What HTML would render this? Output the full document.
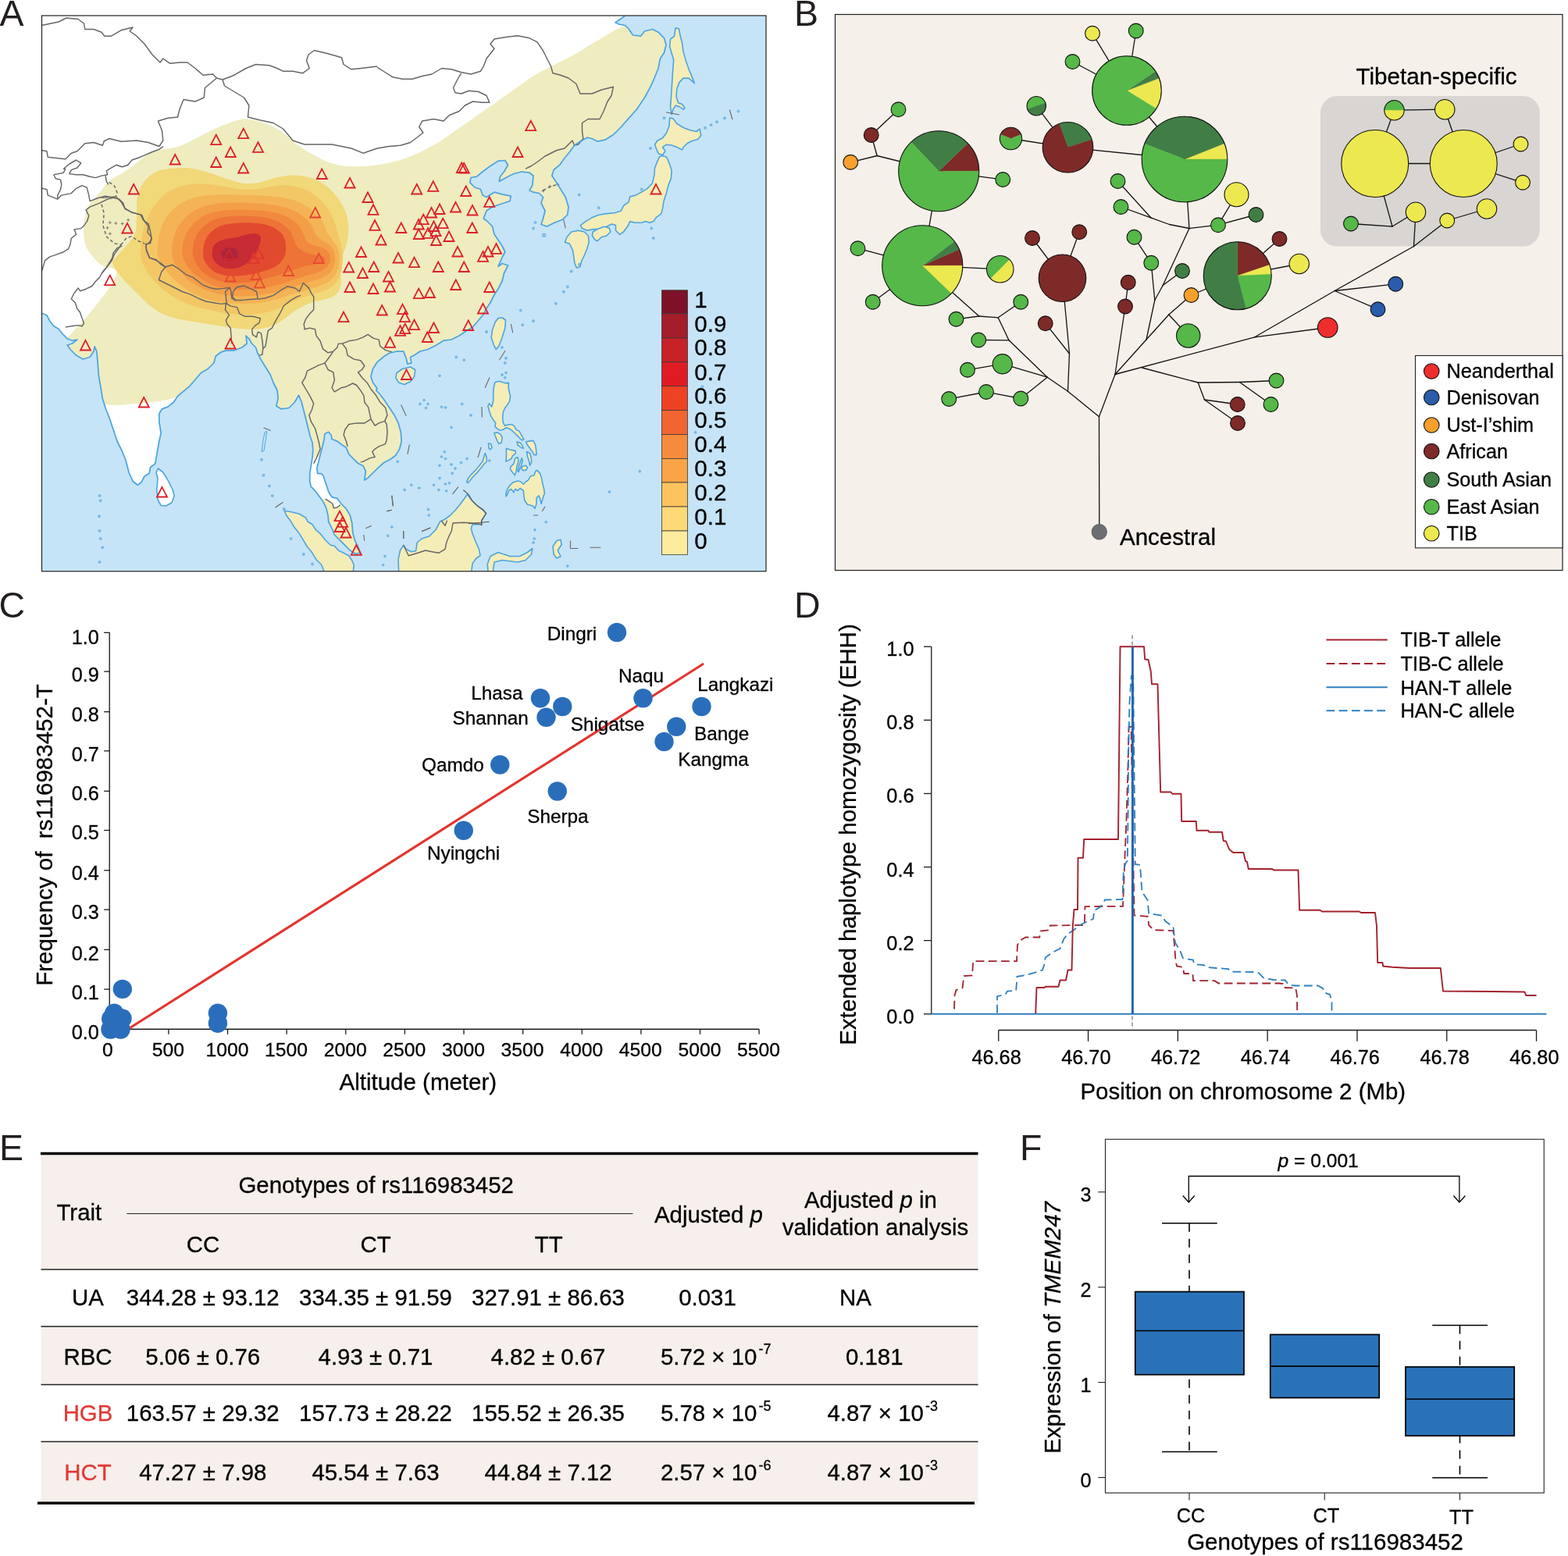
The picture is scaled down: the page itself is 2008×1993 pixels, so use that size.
<!DOCTYPE html>
<html lang="en"><head><meta charset="utf-8"><title>Figure</title>
<style>html,body{margin:0;padding:0;background:#fff}body{width:2008px;height:1993px;overflow:hidden}svg{display:block}text{font-family:"Liberation Sans",sans-serif;stroke:#000;stroke-width:.3px}</style></head><body>
<svg width="2008" height="1993" viewBox="0 0 2008 1993">
<rect width="2008" height="1993" fill="#fff"/>
<g id="panelA">
<defs><clipPath id="mapclip"><rect x="53.5" y="20.0" width="927.5" height="711.75"/></clipPath>
<clipPath id="landclip"><path d="M53.5,401.2 L60.0,403.8 L63.8,411.2 L68.8,417.5 L75.0,421.2 L80.0,427.5 L86.2,433.8 L92.5,436.2 L98.8,435.0 L92.5,440.0 L86.2,442.0 L90.0,447.5 L97.5,455.0 L106.2,460.0 L115.0,457.5 L120.0,450.0 L121.2,443.8 L123.8,450.0 L125.0,462.5 L126.2,480.0 L128.8,495.0 L131.2,510.0 L135.0,522.5 L140.0,535.0 L145.0,550.0 L150.0,565.0 L156.2,577.5 L161.2,590.0 L165.0,605.0 L170.0,616.2 L176.2,621.2 L181.2,617.5 L185.0,610.0 L191.2,606.2 L192.5,598.8 L198.8,593.8 L201.2,580.0 L203.8,565.0 L206.2,555.0 L203.8,540.0 L203.8,530.0 L207.5,523.8 L215.0,521.2 L222.5,515.0 L227.5,507.5 L235.0,501.2 L242.5,495.0 L250.0,486.2 L257.5,477.5 L266.2,472.5 L273.8,465.0 L276.2,456.2 L282.5,451.2 L290.0,448.8 L300.0,448.8 L310.0,445.0 L316.2,440.0 L315.0,430.0 L318.8,433.8 L322.5,440.0 L327.5,445.0 L330.0,452.5 L333.8,460.0 L340.0,470.0 L346.2,480.0 L350.0,490.0 L355.0,500.0 L356.2,510.0 L353.8,520.0 L360.0,523.8 L370.0,522.5 L377.5,515.0 L382.5,506.2 L386.2,515.0 L390.0,530.0 L393.8,545.0 L397.5,560.0 L400.0,566.7 L400.8,576.7 L400.0,586.7 L398.3,596.7 L396.7,606.7 L396.7,616.7 L398.3,623.3 L403.3,628.3 L408.3,635.0 L413.3,641.7 L417.5,650.0 L420.0,660.0 L420.8,668.3 L425.0,676.7 L428.3,685.0 L435.0,691.7 L441.7,698.3 L448.3,705.0 L455.0,709.2 L461.7,708.3 L458.3,700.0 L454.2,691.7 L451.7,681.7 L450.8,670.0 L448.3,660.0 L443.3,651.7 L436.7,645.0 L431.7,638.3 L425.0,636.7 L420.8,630.0 L417.5,620.0 L414.2,610.0 L411.7,606.7 L406.7,606.7 L405.8,600.0 L407.5,593.3 L410.0,583.3 L412.5,573.3 L415.0,563.3 L415.8,555.8 L420.8,553.3 L424.2,557.5 L425.0,562.5 L431.7,565.0 L438.3,570.0 L443.3,573.3 L446.7,581.7 L453.3,588.3 L458.3,593.3 L465.0,596.7 L468.3,603.3 L466.7,615.0 L471.7,611.7 L478.3,605.0 L485.0,598.3 L491.7,592.5 L500.0,588.3 L506.7,583.3 L511.7,575.0 L514.2,565.0 L513.3,553.3 L510.0,541.7 L505.0,531.7 L498.3,521.7 L491.7,511.7 L485.0,503.3 L481.7,500.0 L483.0,497.5 L477.5,490.0 L475.0,482.5 L477.5,472.5 L483.0,463.8 L490.5,457.5 L498.0,452.5 L508.0,450.0 L516.8,450.0 L520.5,460.0 L521.8,466.2 L526.8,465.0 L525.5,457.5 L530.5,455.0 L538.0,450.0 L548.0,447.5 L558.0,442.5 L568.0,436.2 L578.0,435.0 L588.0,430.0 L595.5,425.0 L605.5,418.8 L613.0,410.0 L619.2,402.5 L623.0,395.0 L628.0,387.5 L633.0,377.5 L638.0,370.0 L643.0,360.0 L645.5,350.0 L650.5,340.0 L643.0,337.5 L638.0,341.2 L643.0,330.0 L646.8,322.5 L643.0,315.0 L638.0,307.5 L633.0,300.0 L630.5,290.0 L623.0,282.5 L619.2,280.0 L623.0,270.0 L630.5,265.0 L638.0,262.5 L653.0,257.5 L654.2,251.2 L643.0,248.8 L633.0,246.2 L623.0,252.5 L618.0,250.0 L615.5,242.5 L608.0,240.0 L601.8,233.8 L603.0,227.5 L610.5,226.2 L618.0,220.0 L628.0,212.5 L638.0,206.2 L646.8,205.5 L650.5,211.2 L645.5,220.0 L640.5,226.2 L639.2,232.5 L648.0,227.5 L658.0,222.5 L668.0,220.0 L678.0,221.2 L683.0,225.0 L681.8,237.5 L678.0,243.8 L683.0,246.2 L690.5,247.5 L695.5,252.5 L693.0,260.0 L698.0,270.0 L695.5,280.0 L693.0,287.5 L700.5,290.0 L710.5,285.0 L720.5,281.2 L726.8,275.0 L728.0,265.0 L724.2,252.5 L718.0,242.5 L711.8,232.5 L706.8,225.0 L709.2,217.5 L716.8,211.2 L723.0,202.5 L729.2,195.0 L735.5,186.2 L743.0,181.2 L751.8,176.2 L758.0,177.5 L765.5,181.2 L775.5,178.8 L785.5,172.5 L795.5,162.5 L805.5,151.2 L815.5,140.0 L825.5,125.0 L833.0,111.2 L838.0,100.0 L843.0,87.5 L845.5,75.0 L850.5,67.5 L853.0,57.5 L850.5,48.8 L843.0,41.2 L835.5,37.5 L825.5,40.0 L820.5,46.2 L810.5,45.0 L805.5,37.5 L800.5,32.5 L793.0,31.2 L788.0,28.8 L795.5,23.8 L800.5,20.0 L800.5,15.0 L48.5,15.0 L48.5,401.2Z"/></clipPath></defs>
<g clip-path="url(#mapclip)">
<rect x="53.5" y="20.0" width="927.5" height="711.75" fill="#c6e4f7"/>
<path d="M53.5,401.2 L60.0,403.8 L63.8,411.2 L68.8,417.5 L75.0,421.2 L80.0,427.5 L86.2,433.8 L92.5,436.2 L98.8,435.0 L92.5,440.0 L86.2,442.0 L90.0,447.5 L97.5,455.0 L106.2,460.0 L115.0,457.5 L120.0,450.0 L121.2,443.8 L123.8,450.0 L125.0,462.5 L126.2,480.0 L128.8,495.0 L131.2,510.0 L135.0,522.5 L140.0,535.0 L145.0,550.0 L150.0,565.0 L156.2,577.5 L161.2,590.0 L165.0,605.0 L170.0,616.2 L176.2,621.2 L181.2,617.5 L185.0,610.0 L191.2,606.2 L192.5,598.8 L198.8,593.8 L201.2,580.0 L203.8,565.0 L206.2,555.0 L203.8,540.0 L203.8,530.0 L207.5,523.8 L215.0,521.2 L222.5,515.0 L227.5,507.5 L235.0,501.2 L242.5,495.0 L250.0,486.2 L257.5,477.5 L266.2,472.5 L273.8,465.0 L276.2,456.2 L282.5,451.2 L290.0,448.8 L300.0,448.8 L310.0,445.0 L316.2,440.0 L315.0,430.0 L318.8,433.8 L322.5,440.0 L327.5,445.0 L330.0,452.5 L333.8,460.0 L340.0,470.0 L346.2,480.0 L350.0,490.0 L355.0,500.0 L356.2,510.0 L353.8,520.0 L360.0,523.8 L370.0,522.5 L377.5,515.0 L382.5,506.2 L386.2,515.0 L390.0,530.0 L393.8,545.0 L397.5,560.0 L400.0,566.7 L400.8,576.7 L400.0,586.7 L398.3,596.7 L396.7,606.7 L396.7,616.7 L398.3,623.3 L403.3,628.3 L408.3,635.0 L413.3,641.7 L417.5,650.0 L420.0,660.0 L420.8,668.3 L425.0,676.7 L428.3,685.0 L435.0,691.7 L441.7,698.3 L448.3,705.0 L455.0,709.2 L461.7,708.3 L458.3,700.0 L454.2,691.7 L451.7,681.7 L450.8,670.0 L448.3,660.0 L443.3,651.7 L436.7,645.0 L431.7,638.3 L425.0,636.7 L420.8,630.0 L417.5,620.0 L414.2,610.0 L411.7,606.7 L406.7,606.7 L405.8,600.0 L407.5,593.3 L410.0,583.3 L412.5,573.3 L415.0,563.3 L415.8,555.8 L420.8,553.3 L424.2,557.5 L425.0,562.5 L431.7,565.0 L438.3,570.0 L443.3,573.3 L446.7,581.7 L453.3,588.3 L458.3,593.3 L465.0,596.7 L468.3,603.3 L466.7,615.0 L471.7,611.7 L478.3,605.0 L485.0,598.3 L491.7,592.5 L500.0,588.3 L506.7,583.3 L511.7,575.0 L514.2,565.0 L513.3,553.3 L510.0,541.7 L505.0,531.7 L498.3,521.7 L491.7,511.7 L485.0,503.3 L481.7,500.0 L483.0,497.5 L477.5,490.0 L475.0,482.5 L477.5,472.5 L483.0,463.8 L490.5,457.5 L498.0,452.5 L508.0,450.0 L516.8,450.0 L520.5,460.0 L521.8,466.2 L526.8,465.0 L525.5,457.5 L530.5,455.0 L538.0,450.0 L548.0,447.5 L558.0,442.5 L568.0,436.2 L578.0,435.0 L588.0,430.0 L595.5,425.0 L605.5,418.8 L613.0,410.0 L619.2,402.5 L623.0,395.0 L628.0,387.5 L633.0,377.5 L638.0,370.0 L643.0,360.0 L645.5,350.0 L650.5,340.0 L643.0,337.5 L638.0,341.2 L643.0,330.0 L646.8,322.5 L643.0,315.0 L638.0,307.5 L633.0,300.0 L630.5,290.0 L623.0,282.5 L619.2,280.0 L623.0,270.0 L630.5,265.0 L638.0,262.5 L653.0,257.5 L654.2,251.2 L643.0,248.8 L633.0,246.2 L623.0,252.5 L618.0,250.0 L615.5,242.5 L608.0,240.0 L601.8,233.8 L603.0,227.5 L610.5,226.2 L618.0,220.0 L628.0,212.5 L638.0,206.2 L646.8,205.5 L650.5,211.2 L645.5,220.0 L640.5,226.2 L639.2,232.5 L648.0,227.5 L658.0,222.5 L668.0,220.0 L678.0,221.2 L683.0,225.0 L681.8,237.5 L678.0,243.8 L683.0,246.2 L690.5,247.5 L695.5,252.5 L693.0,260.0 L698.0,270.0 L695.5,280.0 L693.0,287.5 L700.5,290.0 L710.5,285.0 L720.5,281.2 L726.8,275.0 L728.0,265.0 L724.2,252.5 L718.0,242.5 L711.8,232.5 L706.8,225.0 L709.2,217.5 L716.8,211.2 L723.0,202.5 L729.2,195.0 L735.5,186.2 L743.0,181.2 L751.8,176.2 L758.0,177.5 L765.5,181.2 L775.5,178.8 L785.5,172.5 L795.5,162.5 L805.5,151.2 L815.5,140.0 L825.5,125.0 L833.0,111.2 L838.0,100.0 L843.0,87.5 L845.5,75.0 L850.5,67.5 L853.0,57.5 L850.5,48.8 L843.0,41.2 L835.5,37.5 L825.5,40.0 L820.5,46.2 L810.5,45.0 L805.5,37.5 L800.5,32.5 L793.0,31.2 L788.0,28.8 L795.5,23.8 L800.5,20.0 L800.5,15.0 L48.5,15.0 L48.5,401.2Z" fill="#fff"/>
<g clip-path="url(#landclip)">
<path d="M798.0,33.8 C795.5,35.0 789.7,37.5 783.0,41.2 C776.3,45.0 766.3,51.2 758.0,56.2 C749.7,61.2 741.3,66.7 733.0,71.2 C724.7,75.8 716.3,79.4 708.0,83.8 C699.7,88.1 691.3,92.3 683.0,97.5 C674.7,102.7 666.3,109.2 658.0,115.0 C649.7,120.8 641.3,126.7 633.0,132.5 C624.7,138.3 616.3,144.2 608.0,150.0 C599.7,155.8 590.5,162.3 583.0,167.5 C575.5,172.7 569.7,177.1 563.0,181.2 C556.3,185.4 549.7,189.2 543.0,192.5 C536.3,195.8 529.7,198.8 523.0,201.2 C516.3,203.8 509.7,205.8 503.0,207.5 C496.3,209.2 489.8,210.3 483.0,211.2 C476.2,212.2 469.7,212.8 462.5,213.0 C455.3,213.2 447.1,213.4 440.0,212.5 C432.9,211.6 426.7,210.0 420.0,207.5 C413.3,205.0 406.7,201.2 400.0,197.5 C393.3,193.8 386.2,189.6 380.0,185.0 C373.8,180.4 368.3,174.2 362.5,170.0 C356.7,165.8 351.2,162.7 345.0,160.0 C338.8,157.3 330.8,155.0 325.0,153.8 C319.2,152.5 315.8,151.7 310.0,152.5 C304.2,153.3 296.7,156.2 290.0,158.8 C283.3,161.2 276.7,164.4 270.0,167.5 C263.3,170.6 256.2,174.4 250.0,177.5 C243.8,180.6 237.9,184.2 232.5,186.2 C227.1,188.3 223.3,188.7 217.5,190.0 C211.7,191.3 203.5,191.7 197.7,193.8 C191.9,195.9 187.3,199.4 182.7,202.5 C178.1,205.7 174.3,209.4 170.2,212.5 C166.0,215.7 161.8,218.7 157.6,221.3 C153.5,223.9 148.7,225.9 145.1,228.2 C141.6,230.5 138.9,232.5 136.4,235.1 C133.9,237.7 132.8,240.5 130.1,243.8 C127.4,247.2 123.0,251.5 120.1,255.1 C117.2,258.6 114.5,261.4 112.6,265.1 C110.7,268.9 109.8,273.0 108.8,277.6 C107.9,282.2 107.2,288.0 107.0,292.6 C106.7,297.2 107.0,301.4 107.6,305.2 C108.1,308.9 108.8,312.0 110.1,315.2 C111.3,318.3 113.2,321.2 115.1,323.9 C117.0,326.6 119.3,329.1 121.3,331.4 C123.4,333.7 125.3,335.9 127.6,337.7 C129.9,339.5 132.6,341.1 135.1,342.1 C137.6,343.0 140.3,342.5 142.6,343.3 C144.9,344.2 148.2,344.7 148.9,347.1 C149.5,349.5 147.6,354.5 146.4,357.7 C145.1,361.0 143.2,363.6 141.4,366.5 C139.5,369.4 137.4,372.1 135.1,375.2 C132.8,378.4 130.3,381.7 127.6,385.3 C124.9,388.8 121.8,393.0 118.8,396.5 C115.9,400.1 112.8,403.4 110.1,406.5 C107.4,409.7 104.7,413.0 102.6,415.3 C100.5,417.5 98.4,419.3 97.6,420.1 L80.0,440.0 L100.0,480.0 L115.0,505.0 L122.0,519.0 L135.0,518.0 L150.0,519.0 L175.0,517.0 L195.0,515.0 L212.5,512.5 L226.2,508.8 L240.0,508.0 L300.0,520.0 L380.0,570.0 L395.0,588.0 L412.0,583.0 L420.0,590.0 L440.0,610.0 L480.0,680.0 L500.0,740.0 L990.0,740.0 L990.0,10.0 L805.0,10.0Z" fill="#efecc0"/>
<path d="M416.7,639.2 L420.8,641.7 L425.8,645.0 L427.5,650.8 L431.7,650.0 L435.8,646.7 L446.7,646.7 L471.7,716.7 L396.7,716.7 L405.0,638.3Z" fill="#f5edb7"/>
<path d="M213.4,216.4 C218.4,215.5 224.5,215.1 230.1,215.0 C235.7,215.0 241.2,215.0 246.8,215.9 C252.3,216.7 257.9,218.5 263.5,220.0 C269.0,221.6 274.6,223.6 280.1,225.4 C285.7,227.2 291.3,229.3 296.8,230.9 C302.4,232.5 308.0,234.5 313.5,235.1 C319.1,235.6 324.6,235.2 330.2,234.2 C335.8,233.2 341.3,230.7 346.9,229.2 C352.4,227.7 358.0,226.1 363.6,225.4 C369.1,224.6 374.7,224.3 380.2,224.7 C385.8,225.1 391.4,225.8 396.9,227.6 C402.5,229.3 408.6,231.9 413.6,235.1 C418.6,238.3 423.1,242.6 427.0,246.7 C430.9,250.9 434.2,255.4 437.0,260.1 C439.8,264.8 442.1,270.1 443.6,275.1 C445.2,280.1 445.9,285.1 446.1,290.1 C446.4,295.1 446.0,300.4 445.3,305.1 C444.6,309.9 443.2,314.3 442.0,318.5 C440.7,322.6 438.9,326.0 437.8,330.1 C436.7,334.3 435.4,339.1 435.3,343.5 C435.2,347.9 436.8,352.9 437.0,356.8 C437.1,360.7 437.0,363.8 436.1,366.9 C435.3,369.9 434.1,372.8 432.0,375.2 C429.9,377.6 426.7,379.6 423.6,381.0 C420.6,382.5 417.0,383.0 413.6,383.9 C410.3,384.7 407.5,384.8 403.6,386.0 C399.7,387.2 394.7,389.0 390.3,391.0 C385.8,393.1 381.4,395.6 376.9,398.6 C372.5,401.5 367.5,405.8 363.6,408.6 C359.7,411.3 356.9,413.5 353.6,415.2 C350.2,417.0 347.4,417.9 343.6,418.9 C339.7,419.9 335.2,421.0 330.2,421.4 C325.2,421.8 319.1,421.7 313.5,421.4 C308.0,421.1 302.4,420.4 296.8,419.7 C291.3,419.0 285.7,418.1 280.1,417.2 C274.6,416.4 269.0,415.3 263.5,414.4 C257.9,413.5 252.3,412.8 246.8,411.9 C241.2,411.0 235.1,410.0 230.1,408.9 C225.1,407.8 221.2,406.8 216.8,405.2 C212.3,403.6 207.6,401.8 203.4,399.4 C199.2,397.0 195.6,394.2 191.7,391.0 C187.8,387.8 183.7,383.7 180.1,380.2 C176.4,376.7 173.4,373.5 170.0,370.2 C166.7,366.9 163.1,363.5 160.0,360.2 C157.0,356.8 154.1,353.2 151.7,350.2 C149.3,347.1 147.1,344.2 145.8,341.8 C144.6,339.5 143.8,337.9 144.2,336.0 C144.6,334.0 146.0,333.1 148.3,330.1 C150.7,327.2 155.0,322.4 158.4,318.5 C161.7,314.6 165.8,310.4 168.4,306.8 C170.9,303.2 172.7,300.7 173.7,296.8 C174.8,292.9 174.5,288.4 174.7,283.4 C174.9,278.4 174.9,271.8 175.1,266.8 C175.2,261.7 175.0,257.9 175.9,253.4 C176.7,249.0 178.0,244.2 180.1,240.1 C182.1,235.9 185.1,231.7 188.4,228.4 C191.7,225.0 195.9,222.0 200.1,220.0 C204.2,218.0 208.4,217.2 213.4,216.4Z" fill="#f1d878"/>
<path d="M180.1,326.8 C179.5,320.4 180.3,311.2 181.7,303.5 C183.1,295.7 185.3,287.3 188.4,280.1 C191.4,272.9 195.3,265.9 200.1,260.1 C204.8,254.2 210.1,249.0 216.8,245.1 C223.4,241.2 231.8,238.2 240.1,236.7 C248.5,235.2 258.5,235.5 266.8,235.9 C275.1,236.3 282.9,238.1 290.2,239.2 C297.4,240.3 303.5,242.1 310.2,242.6 C316.9,243.0 323.5,242.8 330.2,242.1 C336.9,241.4 343.5,239.1 350.2,238.4 C356.9,237.6 363.6,236.9 370.2,237.6 C376.9,238.3 384.1,239.9 390.3,242.6 C396.4,245.2 401.9,249.1 406.9,253.4 C411.9,257.7 416.7,263.1 420.3,268.4 C423.9,273.7 426.5,279.8 428.6,285.1 C430.7,290.4 431.5,295.7 432.8,300.1 C434.1,304.6 435.2,307.9 436.1,311.8 C437.1,315.7 438.2,319.3 438.6,323.5 C439.1,327.7 439.1,332.4 438.6,336.8 C438.2,341.3 437.5,346.0 436.1,350.2 C434.8,354.3 432.9,358.5 430.3,361.9 C427.7,365.2 424.2,368.0 420.3,370.2 C416.4,372.4 411.9,373.5 406.9,375.2 C401.9,376.9 395.8,378.3 390.3,380.2 C384.7,382.1 379.1,384.4 373.6,386.9 C368.0,389.4 362.5,393.0 356.9,395.2 C351.3,397.4 346.0,399.0 340.2,400.2 C334.4,401.5 328.0,402.4 321.9,402.7 C315.7,403.1 309.9,402.8 303.5,402.4 C297.1,402.0 290.2,401.3 283.5,400.2 C276.8,399.2 270.1,397.7 263.5,396.1 C256.8,394.4 249.8,392.6 243.4,390.2 C237.1,387.8 230.9,385.2 225.1,381.9 C219.3,378.5 213.4,374.4 208.4,370.2 C203.4,366.0 199.0,361.6 195.1,356.8 C191.2,352.1 187.6,346.8 185.1,341.8 C182.6,336.8 180.6,333.2 180.1,326.8Z" fill="#f3c765"/>
<path d="M201.7,323.5 C201.6,318.5 202.0,310.1 203.4,303.5 C204.8,296.8 206.7,289.6 210.1,283.4 C213.4,277.3 217.9,271.5 223.4,266.8 C229.0,262.0 236.2,257.9 243.4,255.1 C250.7,252.3 258.7,251.0 266.8,250.1 C274.9,249.1 283.5,249.2 291.8,249.2 C300.2,249.2 308.5,249.8 316.9,250.1 C325.2,250.3 334.1,250.3 341.9,250.9 C349.7,251.5 356.6,252.0 363.6,253.4 C370.5,254.8 377.5,256.6 383.6,259.2 C389.7,261.9 395.5,265.5 400.3,269.3 C405.0,273.0 408.9,277.2 411.9,281.8 C415.0,286.4 416.4,292.6 418.6,296.8 C420.8,300.9 423.1,303.5 425.3,306.8 C427.5,310.1 430.4,313.2 432.0,316.8 C433.5,320.4 434.2,324.6 434.5,328.5 C434.7,332.4 434.5,336.3 433.6,340.2 C432.8,344.1 431.7,348.4 429.5,351.8 C427.2,355.3 424.0,358.5 420.3,361.0 C416.5,363.5 411.9,365.0 406.9,366.9 C401.9,368.7 396.1,370.1 390.3,371.9 C384.4,373.7 378.0,375.8 371.9,377.7 C365.8,379.6 360.0,381.9 353.6,383.5 C347.2,385.2 340.2,386.8 333.5,387.7 C326.9,388.6 320.2,388.8 313.5,388.9 C306.8,389.0 300.2,388.8 293.5,388.2 C286.8,387.6 279.9,386.7 273.5,385.2 C267.1,383.7 261.0,381.9 255.1,379.4 C249.3,376.9 243.7,373.7 238.4,370.2 C233.2,366.7 227.9,362.7 223.4,358.5 C219.0,354.3 214.9,349.3 211.8,345.2 C208.6,341.0 205.9,337.1 204.2,333.5 C202.6,329.9 201.9,328.5 201.7,323.5Z" fill="#f4b354"/>
<path d="M220.1,323.5 C219.8,318.5 220.4,312.4 221.8,306.8 C223.1,301.2 225.4,295.3 228.4,290.1 C231.5,285.0 235.4,280.0 240.1,275.9 C244.8,271.9 250.7,268.4 256.8,265.9 C262.9,263.4 269.9,261.9 276.8,260.9 C283.8,259.9 291.3,259.9 298.5,259.8 C305.7,259.6 313.0,259.8 320.2,260.1 C327.4,260.4 334.9,260.6 341.9,261.4 C348.8,262.2 355.8,263.2 361.9,264.8 C368.0,266.3 373.6,268.4 378.6,270.9 C383.6,273.5 388.3,276.8 391.9,280.1 C395.5,283.4 398.0,287.3 400.3,290.9 C402.5,294.6 403.1,298.9 405.3,301.8 C407.5,304.7 410.6,306.2 413.6,308.5 C416.7,310.7 421.1,312.4 423.6,315.1 C426.1,317.9 427.8,321.5 428.6,325.1 C429.5,328.8 429.3,333.2 428.6,336.8 C427.9,340.4 426.7,343.9 424.5,346.8 C422.2,349.8 419.0,352.3 415.3,354.3 C411.5,356.4 406.9,357.7 401.9,359.4 C396.9,361.0 391.1,362.5 385.3,364.4 C379.4,366.2 373.0,368.4 366.9,370.2 C360.8,372.0 354.7,373.9 348.6,375.2 C342.4,376.5 336.3,377.5 330.2,378.2 C324.1,378.9 318.0,379.3 311.9,379.4 C305.7,379.4 299.6,379.2 293.5,378.5 C287.4,377.8 281.0,376.7 275.1,375.2 C269.3,373.7 263.7,371.9 258.5,369.4 C253.2,366.9 247.9,363.7 243.4,360.2 C239.0,356.7 235.1,352.4 231.8,348.5 C228.4,344.6 225.4,341.0 223.4,336.8 C221.5,332.6 220.4,328.5 220.1,323.5Z" fill="#f39f48"/>
<path d="M233.4,323.5 C233.3,319.3 233.7,313.4 235.1,308.5 C236.5,303.5 238.7,298.3 241.8,293.8 C244.8,289.2 249.0,284.7 253.5,281.3 C257.9,277.8 263.2,275.0 268.5,273.1 C273.8,271.2 279.0,270.5 285.2,269.8 C291.3,269.0 298.5,268.8 305.2,268.8 C311.9,268.7 318.5,268.9 325.2,269.3 C331.9,269.6 338.8,270.0 345.2,271.1 C351.6,272.2 358.3,273.7 363.6,275.8 C368.9,277.8 373.3,280.6 376.9,283.4 C380.5,286.2 383.2,289.6 385.3,292.6 C387.3,295.7 388.0,298.9 389.4,301.8 C390.8,304.7 391.2,307.9 393.6,310.1 C396.0,312.4 400.0,313.8 403.6,315.1 C407.2,316.5 412.2,316.8 415.3,318.5 C418.3,320.1 420.7,322.6 422.0,325.1 C423.2,327.7 423.3,330.7 422.8,333.5 C422.2,336.3 420.7,339.5 418.6,341.8 C416.5,344.2 413.9,346.0 410.3,347.7 C406.7,349.3 401.9,350.3 396.9,351.8 C391.9,353.4 385.8,355.0 380.2,356.8 C374.7,358.6 369.1,361.0 363.6,362.7 C358.0,364.3 352.4,365.7 346.9,366.9 C341.3,368.0 335.8,369.2 330.2,369.9 C324.6,370.6 319.1,370.9 313.5,371.0 C308.0,371.1 302.4,371.1 296.8,370.5 C291.3,370.0 285.4,369.1 280.1,367.7 C274.9,366.2 269.9,364.2 265.1,361.9 C260.4,359.5 255.7,356.6 251.8,353.5 C247.9,350.5 244.4,346.8 241.8,343.5 C239.1,340.2 237.3,336.8 235.9,333.5 C234.6,330.2 233.6,327.7 233.4,323.5Z" fill="#f18a3e"/>
<path d="M246.8,323.5 C246.5,319.2 247.1,313.9 248.4,309.3 C249.8,304.7 252.1,299.9 255.1,295.9 C258.2,292.0 262.6,288.2 266.8,285.4 C271.0,282.7 275.1,280.8 280.1,279.4 C285.2,278.0 291.3,277.5 296.8,277.1 C302.4,276.7 308.0,276.7 313.5,276.8 C319.1,276.8 324.6,277.0 330.2,277.6 C335.8,278.2 341.9,279.0 346.9,280.4 C351.9,281.8 356.3,283.6 360.2,285.9 C364.1,288.2 367.7,291.4 370.2,294.3 C372.7,297.2 373.9,300.4 375.2,303.5 C376.6,306.5 376.9,309.9 378.6,312.6 C380.2,315.4 382.5,318.1 385.3,320.1 C388.0,322.2 391.9,323.7 395.3,324.8 C398.6,325.9 402.2,326.2 405.3,326.8 C408.3,327.4 411.7,327.6 413.6,328.5 C415.6,329.3 416.9,330.6 416.9,331.8 C416.9,333.1 415.8,334.9 413.6,336.0 C411.4,337.1 407.5,337.7 403.6,338.5 C399.7,339.3 394.7,339.9 390.3,341.0 C385.8,342.1 381.4,343.6 376.9,345.2 C372.5,346.7 368.6,348.5 363.6,350.2 C358.6,351.8 352.4,353.6 346.9,355.2 C341.3,356.7 335.8,358.2 330.2,359.4 C324.6,360.5 319.1,361.4 313.5,361.9 C308.0,362.3 302.4,362.6 296.8,362.2 C291.3,361.8 285.2,360.8 280.1,359.4 C275.1,357.9 270.7,355.9 266.8,353.5 C262.9,351.1 259.6,348.2 256.8,345.2 C254.0,342.1 251.8,338.8 250.1,335.2 C248.5,331.5 247.1,327.8 246.8,323.5Z" fill="#ee7337"/>
<path d="M260.1,323.5 C260.3,320.0 260.4,315.1 261.8,311.0 C263.2,306.8 265.4,302.2 268.5,298.8 C271.5,295.4 276.0,292.4 280.1,290.4 C284.3,288.4 289.1,287.6 293.5,286.8 C297.9,285.9 302.1,285.7 306.8,285.4 C311.6,285.2 316.9,285.2 321.9,285.4 C326.9,285.7 332.1,286.1 336.9,287.1 C341.6,288.1 346.3,289.5 350.2,291.4 C354.1,293.4 357.7,296.0 360.2,298.8 C362.7,301.6 364.3,304.9 365.2,308.5 C366.2,312.0 366.3,316.5 366.1,320.1 C365.8,323.8 365.1,327.1 363.6,330.1 C362.0,333.2 359.7,336.1 356.9,338.5 C354.1,340.9 350.8,342.7 346.9,344.3 C343.0,346.0 338.3,347.2 333.5,348.5 C328.8,349.8 323.5,351.0 318.5,351.8 C313.5,352.7 308.5,353.4 303.5,353.5 C298.5,353.6 293.2,353.5 288.5,352.7 C283.8,351.8 278.9,350.6 275.1,348.5 C271.4,346.4 268.3,342.9 266.0,340.2 C263.6,337.4 261.9,334.6 261.0,331.8 C260.0,329.0 260.0,327.0 260.1,323.5Z" fill="#e24a30"/>
<path d="M271.8,323.5 C272.1,321.3 272.1,317.5 273.5,315.1 C274.9,312.8 277.4,310.8 280.1,309.3 C282.9,307.8 286.5,306.8 290.2,306.0 C293.8,305.1 297.9,305.1 301.8,304.3 C305.7,303.5 309.6,301.8 313.5,300.9 C317.4,300.1 322.0,299.2 325.2,299.3 C328.4,299.4 331.3,300.3 332.7,301.8 C334.1,303.3 334.0,305.7 333.5,308.5 C333.1,311.2 331.6,315.1 330.2,318.5 C328.8,321.8 327.4,325.4 325.2,328.5 C323.0,331.5 320.2,334.5 316.9,336.8 C313.5,339.2 309.1,341.4 305.2,342.7 C301.3,343.9 297.1,344.5 293.5,344.3 C289.9,344.2 286.5,343.4 283.5,341.8 C280.4,340.3 277.1,337.4 275.1,335.2 C273.2,332.9 272.4,330.4 271.8,328.5 C271.3,326.5 271.5,325.7 271.8,323.5Z" fill="#c72b33"/>
<ellipse cx="294.33" cy="325.48" rx="11" ry="8.5" fill="#a8233a" opacity="0.8"/>
</g>
<path d="M865.2,35.9 L869.4,36.7 L871.0,45.0 L873.5,55.0 L875.2,66.7 L878.5,78.4 L882.7,90.1 L886.9,100.1 L889.4,106.8 L886.9,104.3 L881.9,100.1 L875.2,100.1 L870.2,105.1 L866.9,113.4 L866.0,123.5 L868.5,131.8 L873.5,133.5 L876.9,138.5 L875.2,140.1 L870.2,136.8 L865.2,135.1 L861.9,140.1 L860.2,146.8 L858.5,136.8 L859.4,125.1 L860.2,113.4 L861.0,100.1 L861.9,86.7 L862.7,76.7 L860.2,68.4 L857.7,60.0 L858.5,50.0 L863.5,46.7 L864.4,40.0Z" fill="#f5edb7" stroke="#4da4de" stroke-width="1.6" stroke-linejoin="round"/>
<path d="M857.7,151.0 L861.9,151.8 L866.9,158.5 L875.2,163.5 L883.6,166.8 L891.9,168.5 L896.1,165.2 L897.7,173.5 L893.6,178.5 L886.9,180.2 L880.2,183.5 L875.2,188.5 L873.5,191.9 L866.9,188.5 L860.2,186.0 L853.5,185.2 L848.5,188.5 L851.9,193.5 L848.5,198.5 L843.5,196.9 L841.0,191.9 L838.5,185.2 L841.8,180.2 L848.5,176.8 L853.5,170.2 L856.9,161.8Z" fill="#f5edb7" stroke="#4da4de" stroke-width="1.6" stroke-linejoin="round"/>
<path d="M847.7,199.4 L853.5,201.0 L856.9,208.6 L860.2,218.6 L859.4,228.6 L856.0,236.9 L853.5,246.9 L850.2,256.9 L848.5,266.9 L846.9,273.6 L840.2,278.6 L836.8,283.6 L831.8,285.3 L826.8,283.6 L821.8,285.3 L813.5,285.3 L806.8,283.6 L803.5,290.3 L798.5,297.0 L793.5,300.3 L788.5,295.3 L788.5,288.6 L783.4,287.0 L776.8,290.3 L768.4,293.6 L760.1,293.6 L751.7,295.3 L745.1,292.0 L743.4,288.6 L750.1,283.6 L758.4,278.6 L766.8,275.3 L776.8,273.6 L786.8,272.8 L795.1,270.3 L798.5,263.6 L805.1,258.6 L806.8,251.9 L813.5,250.3 L820.1,246.9 L828.5,241.9 L835.2,235.2 L837.7,225.2 L838.5,215.2 L841.8,206.9 L844.4,201.0Z" fill="#f5edb7" stroke="#4da4de" stroke-width="1.6" stroke-linejoin="round"/>
<path d="M759.2,297.0 L765.1,293.6 L773.4,290.3 L780.1,292.0 L781.8,297.0 L776.8,302.0 L770.1,303.7 L765.1,308.7 L761.8,307.0 L758.4,302.0Z" fill="#f5edb7" stroke="#4da4de" stroke-width="1.6" stroke-linejoin="round"/>
<path d="M725.9,303.7 L731.7,297.0 L740.1,295.3 L748.4,297.0 L753.4,302.0 L754.2,310.3 L751.7,318.7 L748.4,327.0 L745.1,333.7 L742.6,342.0 L738.4,342.9 L735.9,337.0 L735.0,330.4 L733.4,320.4 L729.2,312.0 L723.4,310.3Z" fill="#f5edb7" stroke="#4da4de" stroke-width="1.6" stroke-linejoin="round"/>
<path d="M643.0,407.0 L647.5,410.0 L646.8,420.0 L643.0,432.5 L639.2,442.5 L635.5,447.5 L632.5,442.5 L629.2,432.5 L630.5,422.5 L634.2,412.5 L638.0,407.5Z" fill="#f5edb7" stroke="#4da4de" stroke-width="1.6" stroke-linejoin="round"/>
<path d="M508.0,477.5 L515.5,472.5 L525.5,470.0 L531.8,473.8 L530.5,482.5 L525.5,488.8 L518.0,492.5 L510.5,490.0 L506.8,483.8Z" fill="#efecc0" stroke="#4da4de" stroke-width="1.6" stroke-linejoin="round"/>
<path d="M633.8,489.8 L639.0,488.2 L644.2,489.8 L648.4,490.9 L651.5,490.3 L651.0,495.0 L652.0,501.3 L653.6,507.5 L652.6,513.8 L649.4,519.0 L646.3,523.2 L644.2,528.4 L643.7,534.6 L644.2,540.9 L646.3,545.1 L651.5,544.0 L655.7,543.5 L658.8,546.1 L660.9,550.3 L665.1,552.4 L667.2,556.5 L669.2,559.7 L670.8,562.8 L668.7,563.9 L666.1,561.8 L663.0,558.6 L659.9,555.5 L656.7,552.4 L652.6,549.2 L648.4,547.7 L644.2,550.3 L640.0,551.3 L636.9,549.2 L633.8,546.1 L634.8,542.0 L631.7,537.8 L628.6,532.6 L626.5,526.3 L624.9,520.0 L626.5,516.9 L629.6,521.1 L631.7,513.8 L631.7,505.4 L632.2,497.1Z" fill="#f5edb7" stroke="#4da4de" stroke-width="1.6" stroke-linejoin="round"/>
<path d="M632.8,554.5 L636.9,553.9 L641.1,556.5 L643.2,560.7 L642.1,567.0 L639.0,568.5 L636.4,563.9 L634.3,558.6Z" fill="#f5edb7" stroke="#4da4de" stroke-width="1.6" stroke-linejoin="round"/>
<path d="M648.4,574.3 L654.6,576.4 L659.9,577.4 L660.4,580.5 L656.7,583.7 L654.6,587.8 L650.5,589.9 L647.9,591.0 L648.4,584.7Z" fill="#f5edb7" stroke="#4da4de" stroke-width="1.6" stroke-linejoin="round"/>
<path d="M659.9,586.8 L663.0,585.8 L664.0,589.9 L662.0,597.2 L660.9,604.5 L659.3,608.7 L656.7,605.6 L653.6,601.4 L653.6,598.3 L657.8,594.1Z" fill="#f5edb7" stroke="#4da4de" stroke-width="1.6" stroke-linejoin="round"/>
<path d="M668.2,586.8 L669.2,589.9 L667.2,597.2 L664.0,604.5 L663.0,603.5 L665.1,595.1Z" fill="#f5edb7" stroke="#4da4de" stroke-width="1.6" stroke-linejoin="round"/>
<path d="M669.2,597.2 L673.4,596.2 L675.5,599.3 L673.4,602.4 L669.2,602.4 L667.7,599.8Z" fill="#f5edb7" stroke="#4da4de" stroke-width="1.6" stroke-linejoin="round"/>
<path d="M673.4,565.9 L678.6,564.9 L682.8,564.4 L685.4,569.1 L686.5,575.3 L687.0,582.6 L683.9,582.6 L681.8,578.5 L678.6,574.3 L675.5,570.1Z" fill="#f5edb7" stroke="#4da4de" stroke-width="1.6" stroke-linejoin="round"/>
<path d="M674.5,578.5 L678.6,580.5 L680.2,585.8 L680.7,592.0 L678.6,596.2 L677.6,591.0 L675.5,584.7Z" fill="#f5edb7" stroke="#4da4de" stroke-width="1.6" stroke-linejoin="round"/>
<path d="M662.0,565.9 L666.1,567.0 L669.2,571.1 L670.3,574.3 L667.2,573.2 L663.0,570.1Z" fill="#f5edb7" stroke="#4da4de" stroke-width="1.6" stroke-linejoin="round"/>
<path d="M597.8,617.0 L599.4,612.9 L603.6,607.6 L608.8,602.4 L614.0,596.2 L618.1,591.0 L620.2,583.7 L621.3,580.5 L622.9,584.7 L623.4,591.0 L620.2,594.1 L616.1,599.3 L610.9,605.6 L605.6,610.8 L601.5,616.0 L598.9,618.6Z" fill="#f5edb7" stroke="#4da4de" stroke-width="1.6" stroke-linejoin="round"/>
<path d="M625.5,568.0 L628.6,568.5 L630.1,573.2 L628.1,575.8 L626.0,574.3Z" fill="#f5edb7" stroke="#4da4de" stroke-width="1.6" stroke-linejoin="round"/>
<path d="M647.9,635.8 L648.4,629.5 L651.5,623.3 L656.7,618.1 L663.0,616.0 L667.2,617.0 L670.3,620.2 L673.4,617.0 L676.5,614.9 L679.7,609.7 L683.9,608.7 L685.9,603.5 L688.0,602.4 L691.7,606.6 L693.8,612.9 L694.8,619.1 L696.4,625.4 L697.4,631.6 L695.3,637.9 L693.2,645.2 L691.7,638.9 L690.1,634.8 L687.0,637.9 L687.0,645.2 L684.9,651.4 L682.8,648.3 L679.7,647.3 L675.5,646.2 L671.9,641.0 L670.8,634.8 L670.3,628.5 L666.1,625.4 L663.0,628.5 L659.9,626.4 L657.8,630.6 L654.6,626.4 L651.5,628.5 L649.4,633.7Z" fill="#f5edb7" stroke="#4da4de" stroke-width="1.6" stroke-linejoin="round"/>
<path d="M510.8,736.7 L510.0,716.7 L512.5,705.0 L516.7,698.3 L520.0,703.3 L526.7,706.7 L532.5,705.8 L534.2,695.0 L540.0,690.0 L550.0,686.7 L558.3,678.3 L563.3,668.3 L570.0,665.0 L576.7,660.0 L583.3,653.3 L590.0,645.0 L595.0,638.3 L598.3,633.3 L603.3,640.0 L610.0,646.7 L618.3,653.3 L622.5,657.5 L620.0,661.7 L616.7,666.7 L616.7,671.7 L611.7,671.7 L605.0,671.7 L603.3,676.7 L605.0,683.3 L608.3,691.7 L613.3,703.3 L615.0,711.7 L610.0,715.0 L605.0,721.7 L603.3,736.7Z" fill="#f5edb7" stroke="#4da4de" stroke-width="1.6" stroke-linejoin="round"/>
<path d="M625.5,737.5 L624.2,722.5 L628.0,712.5 L638.0,707.5 L653.0,712.5 L665.5,712.5 L675.5,707.5 L681.8,702.5 L680.5,710.0 L673.0,717.5 L663.0,720.0 L653.0,718.8 L643.0,717.5 L633.0,720.0 L630.5,737.5Z" fill="#f5edb7" stroke="#4da4de" stroke-width="1.6" stroke-linejoin="round"/>
<path d="M708.0,700.0 L713.0,692.5 L718.0,691.2 L719.2,697.5 L714.2,705.0 L718.0,712.5 L713.0,715.0 L709.2,710.0Z" fill="#f5edb7" stroke="#4da4de" stroke-width="1.6" stroke-linejoin="round"/>
<path d="M364.2,654.2 L373.3,655.8 L383.3,658.3 L391.7,663.3 L394.2,668.3 L400.0,671.7 L404.2,678.3 L410.0,683.3 L416.7,691.7 L423.3,698.3 L428.3,699.2 L433.3,705.0 L440.0,708.3 L446.7,711.7 L450.0,716.7 L453.3,723.3 L451.7,736.7 L416.7,736.7 L411.7,723.3 L405.0,716.7 L400.0,708.3 L393.3,700.0 L388.3,691.7 L383.3,683.3 L376.7,675.0 L371.7,666.7 L366.7,660.0Z" fill="#f5edb7" stroke="#4da4de" stroke-width="1.6" stroke-linejoin="round"/>
<path d="M202.5,600.0 L208.8,605.0 L215.0,615.0 L221.2,627.5 L223.2,635.0 L220.0,643.8 L212.5,648.0 L206.2,647.5 L202.0,640.0 L200.8,627.5 L202.0,612.5 L200.0,605.0Z" fill="#fff" stroke="#4da4de" stroke-width="1.6" stroke-linejoin="round"/>
<circle cx="903.0" cy="163.75" r="1.4" fill="#9fcdea" stroke="#4da4de" stroke-width="0.9"/>
<circle cx="910.5" cy="160.0" r="1.4" fill="#9fcdea" stroke="#4da4de" stroke-width="0.9"/>
<circle cx="918.0" cy="156.25" r="1.4" fill="#9fcdea" stroke="#4da4de" stroke-width="0.9"/>
<circle cx="928.0" cy="151.25" r="1.4" fill="#9fcdea" stroke="#4da4de" stroke-width="0.9"/>
<circle cx="945.5" cy="142.5" r="1.4" fill="#9fcdea" stroke="#4da4de" stroke-width="0.9"/>
<circle cx="850.5" cy="151.25" r="1.4" fill="#9fcdea" stroke="#4da4de" stroke-width="0.9"/>
<circle cx="833.0" cy="190.0" r="1.4" fill="#9fcdea" stroke="#4da4de" stroke-width="0.9"/>
<circle cx="741.75" cy="338.75" r="1.4" fill="#9fcdea" stroke="#4da4de" stroke-width="0.9"/>
<circle cx="731.75" cy="347.5" r="1.4" fill="#9fcdea" stroke="#4da4de" stroke-width="0.9"/>
<circle cx="726.75" cy="367.5" r="1.4" fill="#9fcdea" stroke="#4da4de" stroke-width="0.9"/>
<circle cx="721.75" cy="373.75" r="1.4" fill="#9fcdea" stroke="#4da4de" stroke-width="0.9"/>
<circle cx="711.75" cy="388.75" r="1.4" fill="#9fcdea" stroke="#4da4de" stroke-width="0.9"/>
<circle cx="683.0" cy="411.25" r="1.4" fill="#9fcdea" stroke="#4da4de" stroke-width="0.9"/>
<circle cx="669.25" cy="416.25" r="1.4" fill="#9fcdea" stroke="#4da4de" stroke-width="0.9"/>
<circle cx="666.75" cy="397.5" r="1.4" fill="#9fcdea" stroke="#4da4de" stroke-width="0.9"/>
<circle cx="834.25" cy="292.5" r="1.4" fill="#9fcdea" stroke="#4da4de" stroke-width="0.9"/>
<circle cx="836.75" cy="305.0" r="1.4" fill="#9fcdea" stroke="#4da4de" stroke-width="0.9"/>
<circle cx="683.0" cy="292.5" r="1.4" fill="#9fcdea" stroke="#4da4de" stroke-width="0.9"/>
<circle cx="685.5" cy="285.0" r="1.4" fill="#9fcdea" stroke="#4da4de" stroke-width="0.9"/>
<circle cx="821.75" cy="242.5" r="1.4" fill="#9fcdea" stroke="#4da4de" stroke-width="0.9"/>
<circle cx="766.75" cy="266.25" r="1.4" fill="#9fcdea" stroke="#4da4de" stroke-width="0.9"/>
<circle cx="741.75" cy="249.5" r="1.4" fill="#9fcdea" stroke="#4da4de" stroke-width="0.9"/>
<circle cx="584.25" cy="457.5" r="1.4" fill="#9fcdea" stroke="#4da4de" stroke-width="0.9"/>
<circle cx="594.25" cy="461.25" r="1.4" fill="#9fcdea" stroke="#4da4de" stroke-width="0.9"/>
<circle cx="623.0" cy="425.0" r="1.4" fill="#9fcdea" stroke="#4da4de" stroke-width="0.9"/>
<circle cx="648.0" cy="458.75" r="1.4" fill="#9fcdea" stroke="#4da4de" stroke-width="0.9"/>
<circle cx="646.75" cy="465.0" r="1.4" fill="#9fcdea" stroke="#4da4de" stroke-width="0.9"/>
<circle cx="696.75" cy="301.25" r="2.2" fill="#9fcdea" stroke="#4da4de" stroke-width="0.9"/>
<circle cx="335.0" cy="588.75" r="1.4" fill="#9fcdea" stroke="#4da4de" stroke-width="0.9"/>
<circle cx="337.5" cy="608.75" r="1.4" fill="#9fcdea" stroke="#4da4de" stroke-width="0.9"/>
<circle cx="345.0" cy="622.5" r="1.4" fill="#9fcdea" stroke="#4da4de" stroke-width="0.9"/>
<circle cx="348.75" cy="635.0" r="1.4" fill="#9fcdea" stroke="#4da4de" stroke-width="0.9"/>
<circle cx="127.5" cy="635.0" r="1.4" fill="#9fcdea" stroke="#4da4de" stroke-width="0.9"/>
<circle cx="128.75" cy="641.25" r="1.4" fill="#9fcdea" stroke="#4da4de" stroke-width="0.9"/>
<circle cx="127.0" cy="661.25" r="1.4" fill="#9fcdea" stroke="#4da4de" stroke-width="0.9"/>
<circle cx="127.5" cy="680.0" r="1.4" fill="#9fcdea" stroke="#4da4de" stroke-width="0.9"/>
<circle cx="128.75" cy="690.0" r="1.4" fill="#9fcdea" stroke="#4da4de" stroke-width="0.9"/>
<circle cx="131.25" cy="701.25" r="1.4" fill="#9fcdea" stroke="#4da4de" stroke-width="0.9"/>
<circle cx="127.5" cy="720.0" r="1.4" fill="#9fcdea" stroke="#4da4de" stroke-width="0.9"/>
<circle cx="372.5" cy="690.0" r="1.4" fill="#9fcdea" stroke="#4da4de" stroke-width="0.9"/>
<circle cx="388.75" cy="710.0" r="1.4" fill="#9fcdea" stroke="#4da4de" stroke-width="0.9"/>
<circle cx="400.0" cy="722.5" r="1.4" fill="#9fcdea" stroke="#4da4de" stroke-width="0.9"/>
<circle cx="363.75" cy="652.0" r="1.4" fill="#9fcdea" stroke="#4da4de" stroke-width="0.9"/>
<circle cx="543.0" cy="512.5" r="1.3" fill="#9fcdea" stroke="#4da4de" stroke-width="0.9"/>
<circle cx="538.0" cy="517.5" r="1.3" fill="#9fcdea" stroke="#4da4de" stroke-width="0.9"/>
<circle cx="548.0" cy="517.5" r="1.3" fill="#9fcdea" stroke="#4da4de" stroke-width="0.9"/>
<circle cx="545.5" cy="522.5" r="1.3" fill="#9fcdea" stroke="#4da4de" stroke-width="0.9"/>
<circle cx="565.5" cy="521.25" r="1.3" fill="#9fcdea" stroke="#4da4de" stroke-width="0.9"/>
<circle cx="570.5" cy="522.0" r="1.3" fill="#9fcdea" stroke="#4da4de" stroke-width="0.9"/>
<circle cx="591.75" cy="517.5" r="1.3" fill="#9fcdea" stroke="#4da4de" stroke-width="0.9"/>
<circle cx="603.0" cy="532.0" r="1.3" fill="#9fcdea" stroke="#4da4de" stroke-width="0.9"/>
<circle cx="578.0" cy="547.5" r="1.3" fill="#9fcdea" stroke="#4da4de" stroke-width="0.9"/>
<circle cx="563.0" cy="481.25" r="1.3" fill="#9fcdea" stroke="#4da4de" stroke-width="0.9"/>
<circle cx="643.0" cy="480.0" r="1.3" fill="#9fcdea" stroke="#4da4de" stroke-width="0.9"/>
<circle cx="648.0" cy="477.5" r="1.3" fill="#9fcdea" stroke="#4da4de" stroke-width="0.9"/>
<circle cx="643.0" cy="445.0" r="1.3" fill="#9fcdea" stroke="#4da4de" stroke-width="0.9"/>
<circle cx="646.75" cy="483.75" r="1.3" fill="#9fcdea" stroke="#4da4de" stroke-width="0.9"/>
<circle cx="569.25" cy="578.75" r="1.3" fill="#9fcdea" stroke="#4da4de" stroke-width="0.9"/>
<circle cx="565.5" cy="585.0" r="1.3" fill="#9fcdea" stroke="#4da4de" stroke-width="0.9"/>
<circle cx="570.5" cy="587.5" r="1.3" fill="#9fcdea" stroke="#4da4de" stroke-width="0.9"/>
<circle cx="563.0" cy="596.25" r="1.3" fill="#9fcdea" stroke="#4da4de" stroke-width="0.9"/>
<circle cx="578.0" cy="595.0" r="1.3" fill="#9fcdea" stroke="#4da4de" stroke-width="0.9"/>
<circle cx="583.0" cy="600.0" r="1.3" fill="#9fcdea" stroke="#4da4de" stroke-width="0.9"/>
<circle cx="579.25" cy="606.25" r="1.3" fill="#9fcdea" stroke="#4da4de" stroke-width="0.9"/>
<circle cx="563.0" cy="612.5" r="1.3" fill="#9fcdea" stroke="#4da4de" stroke-width="0.9"/>
<circle cx="570.5" cy="620.0" r="1.3" fill="#9fcdea" stroke="#4da4de" stroke-width="0.9"/>
<circle cx="575.5" cy="618.75" r="1.3" fill="#9fcdea" stroke="#4da4de" stroke-width="0.9"/>
<circle cx="555.5" cy="621.25" r="1.3" fill="#9fcdea" stroke="#4da4de" stroke-width="0.9"/>
<circle cx="561.75" cy="627.5" r="1.3" fill="#9fcdea" stroke="#4da4de" stroke-width="0.9"/>
<circle cx="571.75" cy="628.75" r="1.3" fill="#9fcdea" stroke="#4da4de" stroke-width="0.9"/>
<circle cx="536.75" cy="625.0" r="1.3" fill="#9fcdea" stroke="#4da4de" stroke-width="0.9"/>
<circle cx="526.75" cy="621.25" r="1.3" fill="#9fcdea" stroke="#4da4de" stroke-width="0.9"/>
<circle cx="518.0" cy="627.5" r="1.3" fill="#9fcdea" stroke="#4da4de" stroke-width="0.9"/>
<circle cx="509.25" cy="591.25" r="1.3" fill="#9fcdea" stroke="#4da4de" stroke-width="0.9"/>
<circle cx="598.0" cy="587.5" r="1.3" fill="#9fcdea" stroke="#4da4de" stroke-width="0.9"/>
<circle cx="590.5" cy="592.5" r="1.3" fill="#9fcdea" stroke="#4da4de" stroke-width="0.9"/>
<circle cx="626.75" cy="590.0" r="1.3" fill="#9fcdea" stroke="#4da4de" stroke-width="0.9"/>
<circle cx="501.75" cy="675.0" r="1.3" fill="#9fcdea" stroke="#4da4de" stroke-width="0.9"/>
<circle cx="548.5" cy="652.5" r="1.3" fill="#9fcdea" stroke="#4da4de" stroke-width="0.9"/>
<circle cx="549.25" cy="660.0" r="1.3" fill="#9fcdea" stroke="#4da4de" stroke-width="0.9"/>
<circle cx="819.25" cy="603.75" r="1.3" fill="#9fcdea" stroke="#4da4de" stroke-width="0.9"/>
<circle cx="780.5" cy="630.0" r="1.3" fill="#9fcdea" stroke="#4da4de" stroke-width="0.9"/>
<circle cx="899.25" cy="495.0" r="1.3" fill="#9fcdea" stroke="#4da4de" stroke-width="0.9"/>
<circle cx="890.5" cy="553.75" r="1.3" fill="#9fcdea" stroke="#4da4de" stroke-width="0.9"/>
<circle cx="699.25" cy="668.75" r="1.3" fill="#9fcdea" stroke="#4da4de" stroke-width="0.9"/>
<circle cx="685.0" cy="678.75" r="1.3" fill="#9fcdea" stroke="#4da4de" stroke-width="0.9"/>
<circle cx="684.25" cy="690.0" r="1.3" fill="#9fcdea" stroke="#4da4de" stroke-width="0.9"/>
<circle cx="683.0" cy="695.0" r="1.3" fill="#9fcdea" stroke="#4da4de" stroke-width="0.9"/>
<circle cx="726.75" cy="725.0" r="1.3" fill="#9fcdea" stroke="#4da4de" stroke-width="0.9"/>
<circle cx="493.0" cy="712.5" r="1.3" fill="#9fcdea" stroke="#4da4de" stroke-width="0.9"/>
<circle cx="490.5" cy="723.75" r="1.3" fill="#9fcdea" stroke="#4da4de" stroke-width="0.9"/>
<circle cx="496.75" cy="686.25" r="1.3" fill="#9fcdea" stroke="#4da4de" stroke-width="0.9"/>
<path d="M335.0,578.6 L337.0,563.6 L339.2,553.6 L341.7,552.2 L340.3,563.6 L338.0,577.2Z" fill="#c6e4f7" stroke="#4da4de" stroke-width="1"/>
<path d="M53.5,32.5 L75.0,28.0 L85.0,23.0 L100.0,24.5 L107.5,30.0 L108.8,37.5 L120.0,37.5 L130.0,41.2 L133.8,46.2 L142.5,46.2 L155.0,38.8 L170.0,35.0 L166.2,40.0 L175.0,46.2 L185.0,56.2 L195.0,70.0 L205.0,80.0 L208.8,75.0 L217.5,81.2 L230.0,80.0 L240.0,80.0 L250.0,87.5 L260.0,96.2 L272.5,95.0 L277.5,100.0 L285.0,102.0" fill="none" stroke="#666666" stroke-width="1.45" stroke-linejoin="round"/>
<path d="M285.0,102.0 L300.0,96.2 L315.0,87.5 L327.5,82.5 L345.0,83.8 L355.0,87.5 L362.5,91.2 L375.0,91.2 L387.5,93.8 L396.2,87.5 L392.5,77.5 L395.0,70.0 L402.5,64.5 L420.0,68.8 L437.5,73.8 L440.0,82.5 L450.0,88.8 L462.5,87.5 L483.0,85.0" fill="none" stroke="#666666" stroke-width="1.45" stroke-linejoin="round"/>
<path d="M277.5,100.0 L270.0,106.2 L262.5,112.5 L261.2,125.0 L250.0,130.0 L235.0,127.5 L230.0,140.0 L227.5,150.0 L215.0,151.2 L202.5,155.0 L207.5,167.5 L208.8,180.0 L203.8,187.5" fill="none" stroke="#666666" stroke-width="1.45" stroke-linejoin="round"/>
<path d="M285.0,102.0 L287.5,110.0 L300.0,117.5 L312.5,125.0 L318.8,135.0 L317.5,150.0 L332.5,153.8 L350.0,157.5 L362.5,165.0 L375.0,180.0 L390.0,185.0 L425.0,185.0 L450.0,190.0 L465.0,196.2 L483.0,190.0" fill="none" stroke="#666666" stroke-width="1.45" stroke-linejoin="round"/>
<path d="M132.5,181.2 L140.0,177.5 L155.0,181.2 L175.0,180.0 L190.0,182.5 L203.8,187.5" fill="none" stroke="#666666" stroke-width="1.45" stroke-linejoin="round"/>
<path d="M130.0,253.4 L140.0,252.6 L148.3,251.7 L155.0,258.4 L160.0,266.8 L168.4,271.8 L180.1,275.1 L183.4,281.8 L190.1,286.8 L192.6,296.8 L194.2,306.8 L190.1,311.8 L186.7,313.5 L187.6,321.8 L191.7,330.1 L200.1,333.5 L206.7,337.7 L211.8,341.8" fill="none" stroke="#666666" stroke-width="1.45" stroke-linejoin="round"/>
<path d="M211.8,341.8 L220.9,339.3 L230.1,345.2 L238.4,351.8 L246.8,355.2 L253.5,360.2 L260.1,365.2 L268.5,368.5 L276.8,370.2 L286.8,369.4 L294.3,368.5 L296.0,373.5 L296.8,381.9 L301.8,385.2" fill="none" stroke="#666666" stroke-width="1.45" stroke-linejoin="round"/>
<path d="M211.8,341.8 L206.7,348.5 L203.4,358.5 L213.4,363.5 L223.4,368.5 L233.4,373.5 L243.4,376.9 L253.5,381.9 L263.5,386.0 L273.5,387.7 L283.5,389.4 L290.2,388.5 L289.3,380.2 L288.5,373.5 L294.3,368.5" fill="none" stroke="#666666" stroke-width="1.45" stroke-linejoin="round"/>
<path d="M298.5,373.5 L303.5,367.7 L311.9,366.0 L320.2,369.4 L328.5,373.5 L330.2,382.7 L320.2,383.5 L310.2,384.4 L301.8,384.4 L297.7,380.2 L298.5,373.5" fill="none" stroke="#666666" stroke-width="1.45" stroke-linejoin="round"/>
<path d="M289.3,388.5 L295.2,391.9 L303.5,393.6 L306.8,401.9 L313.5,405.2 L323.5,405.2 L333.5,407.7 L331.9,413.6 L326.9,416.9 L322.7,421.9 L323.5,428.6 L328.5,431.9 L330.2,425.2 L334.4,426.9 L336.0,436.9 L336.9,446.9" fill="none" stroke="#666666" stroke-width="1.45" stroke-linejoin="round"/>
<path d="M289.3,388.5 L288.5,396.9 L293.5,403.6 L289.3,410.2 L291.0,415.2 L295.2,420.2 L296.0,430.2 L296.8,440.3" fill="none" stroke="#666666" stroke-width="1.45" stroke-linejoin="round"/>
<path d="M140.0,233.4 L146.7,238.4 L150.0,246.7 L148.3,251.7" fill="none" stroke="#666666" stroke-width="1.45" stroke-linejoin="round" stroke-dasharray="4,3"/>
<path d="M130.0,261.8 L133.3,273.4 L131.7,288.4 L136.7,303.5 L146.7,311.8 L155.0,313.5" fill="none" stroke="#666666" stroke-width="1.45" stroke-linejoin="round" stroke-dasharray="4,3"/>
<path d="M155.0,313.5 L161.7,305.1 L168.4,302.6 L176.7,308.5 L185.1,311.8" fill="none" stroke="#666666" stroke-width="1.45" stroke-linejoin="round" stroke-dasharray="4,3"/>
<path d="M155.0,313.5 L151.7,318.5 L146.7,325.1 L143.3,333.5 L138.3,340.2 L133.3,346.8 L130.0,350.2" fill="none" stroke="#666666" stroke-width="1.45" stroke-linejoin="round"/>
<path d="M53.8,241.3 L60.0,242.6 L61.3,250.1 L73.8,255.1 L78.8,250.1 L91.3,247.6 L97.6,241.3 L105.1,237.6 L111.3,240.1 L113.8,250.1 L115.1,257.6 L125.1,253.8 L135.1,251.3 L145.1,253.2" fill="none" stroke="#666666" stroke-width="1.45" stroke-linejoin="round"/>
<path d="M145.1,253.2 L152.6,255.1 L157.6,260.1 L160.1,267.6 L170.2,272.6 L181.4,275.1 L185.2,283.9 L190.2,290.1 L188.9,297.6 L193.9,303.9 L192.7,311.4 L186.4,312.7 L187.7,320.2 L191.4,330.2 L200.2,332.7 L206.4,338.9 L212.7,342.7" fill="none" stroke="#666666" stroke-width="1.45" stroke-linejoin="round"/>
<path d="M145.1,253.2 L137.6,255.1 L127.6,260.1 L115.1,265.1 L110.1,268.9 L113.8,276.4 L111.3,283.9 L107.6,288.9 L103.8,292.6 L95.1,293.9 L97.6,300.1 L91.3,305.2 L90.0,312.7 L87.5,318.9 L81.3,322.7 L71.3,326.4 L63.8,328.9 L57.5,333.9 L53.8,346.5" fill="none" stroke="#666666" stroke-width="1.45" stroke-linejoin="round"/>
<path d="M156.4,315.2 L150.1,317.7 L145.1,323.9 L143.9,330.2 L140.1,336.4 L136.4,342.7 L132.6,346.5 L127.6,355.2 L122.6,360.2 L117.6,366.5 L110.1,370.2 L102.6,372.7 L100.1,369.0 L95.1,375.2 L91.3,382.8 L96.3,387.8 L98.8,395.3 L102.6,400.3 L105.1,407.8 L107.6,414.0 L105.1,417.8 L100.1,416.6 L91.3,417.8 L83.8,419.1" fill="none" stroke="#666666" stroke-width="1.45" stroke-linejoin="round"/>
<path d="M53.8,192.5 L60.0,193.8 L61.3,201.3 L72.5,202.5 L83.8,203.8 L91.3,196.3 L98.8,193.8 L105.1,187.5 L108.8,183.8 L120.1,182.5 L131.3,186.3 L133.8,180.0" fill="none" stroke="#666666" stroke-width="1.45" stroke-linejoin="round"/>
<path d="M81.3,216.3 L88.8,210.0 L97.6,205.0 L103.8,208.8 L98.8,215.0 L91.3,217.6 L88.8,222.6 L97.6,223.8 L106.3,223.8 L115.1,226.3 L122.6,227.6 L130.1,225.1 L137.6,223.8 L136.4,218.8 L140.1,216.3 L148.9,211.3 L156.4,213.8 L163.9,211.3 L168.9,205.0 L176.4,202.5 L185.2,198.8 L193.9,195.0 L203.9,191.3 L208.9,187.5" fill="none" stroke="#666666" stroke-width="1.45" stroke-linejoin="round"/>
<path d="M135.1,225.1 L136.4,232.6 L138.9,236.3" fill="none" stroke="#666666" stroke-width="1.45" stroke-linejoin="round"/>
<path d="M68.8,223.8 L75.0,222.6 L81.3,221.3 L83.8,216.3 L81.3,216.3" fill="none" stroke="#666666" stroke-width="1.45" stroke-linejoin="round"/>
<path d="M68.8,223.8 L71.3,228.8 L77.5,230.1 L78.8,236.3 L77.5,242.6 L73.8,250.1 L73.8,255.1" fill="none" stroke="#666666" stroke-width="1.45" stroke-linejoin="round"/>
<path d="M330.0,383.4 L340.0,381.7 L350.0,378.4 L360.0,371.7 L368.4,366.7 L378.4,369.2 L383.4,373.4 L388.4,362.5 L395.1,368.4 L398.4,375.1 L401.7,380.1 L401.7,396.7 L396.7,401.7 L391.7,408.4 L389.2,415.1 L390.1,421.8 L396.7,420.1 L403.4,421.8 L405.1,430.1 L410.1,436.8 L413.4,446.8 L420.1,451.8 L426.8,450.1" fill="none" stroke="#666666" stroke-width="1.45" stroke-linejoin="round"/>
<path d="M385.1,378.4 L380.1,380.1 L371.7,385.1 L363.4,391.7 L358.4,401.7 L353.4,410.1 L348.4,420.1 L343.4,423.4 L341.7,433.4 L340.0,443.4 L336.7,446.8 L335.8,454.3 L331.7,455.1" fill="none" stroke="#666666" stroke-width="1.45" stroke-linejoin="round"/>
<path d="M426.8,450.1 L420.9,458.5 L415.9,465.1 L408.4,467.6 L400.1,471.8 L393.4,475.1 L390.9,483.5 L386.7,490.2 L391.7,498.5 L396.7,506.8 L401.7,516.9 L399.2,525.2 L395.9,531.9 L398.4,540.2 L403.4,548.5 L405.9,556.9 L408.4,566.9 L410.1,575.2 L405.1,586.9 L401.7,593.6" fill="none" stroke="#666666" stroke-width="1.45" stroke-linejoin="round"/>
<path d="M426.8,450.1 L431.8,445.1 L433.4,440.1 L438.4,440.1 L443.4,446.8 L445.1,455.1 L453.5,460.1 L461.8,461.8 L466.8,468.5 L463.5,473.5 L458.5,476.8 L463.5,483.5 L470.1,490.2 L475.1,498.5 L481.8,506.8 L486.8,515.2 L493.5,521.9 L496.0,531.9 L492.7,539.4" fill="none" stroke="#666666" stroke-width="1.45" stroke-linejoin="round"/>
<path d="M415.9,465.1 L420.1,473.5 L426.8,476.8 L428.4,486.8 L425.1,496.8 L428.4,501.8 L436.8,496.8 L443.4,495.2 L451.8,491.0 L456.8,493.5 L461.8,500.2 L466.0,506.8 L466.8,515.2 L471.8,521.9 L473.5,530.2 L475.1,536.9" fill="none" stroke="#666666" stroke-width="1.45" stroke-linejoin="round"/>
<path d="M438.4,440.1 L446.8,436.8 L456.8,435.1 L465.1,431.8 L471.0,428.4 L478.5,433.4 L485.2,435.1 L486.8,443.4 L493.5,448.4 L501.8,450.9" fill="none" stroke="#666666" stroke-width="1.45" stroke-linejoin="round"/>
<path d="M475.1,536.9 L466.8,541.9 L456.8,541.9 L446.8,543.5 L441.8,550.2 L440.1,556.9 L443.4,565.2 L445.1,571.9" fill="none" stroke="#666666" stroke-width="1.45" stroke-linejoin="round"/>
<path d="M475.1,536.9 L480.1,545.2 L485.2,541.9 L492.7,539.4 L495.2,543.5 L496.0,553.6 L495.2,563.6 L493.5,568.6 L485.2,571.9 L480.1,575.2 L476.8,578.6 L480.1,585.3 L473.5,586.9 L465.1,591.1 L461.8,591.9" fill="none" stroke="#666666" stroke-width="1.45" stroke-linejoin="round"/>
<path d="M416.7,639.2 L420.8,641.7 L425.8,645.0 L427.5,650.8 L431.7,650.0 L435.8,646.7" fill="none" stroke="#666666" stroke-width="1.45" stroke-linejoin="round"/>
<path d="M516.7,698.3 L523.3,711.7 L535.0,708.3 L545.0,705.0 L553.3,706.7 L561.7,708.3 L570.0,703.3 L571.7,695.0 L575.0,686.7 L578.3,680.0 L580.0,670.0 L593.3,669.2 L605.0,670.0 L616.7,671.7" fill="none" stroke="#666666" stroke-width="1.45" stroke-linejoin="round"/>
<path d="M565.0,666.7 L570.0,673.3 L572.5,666.7" fill="none" stroke="#666666" stroke-width="1.45" stroke-linejoin="round"/>
<path d="M483.0,86.2 L493.0,92.5 L503.0,98.8 L515.5,101.2 L528.0,101.2 L540.5,97.5 L553.0,95.0 L565.5,87.5 L578.0,88.8 L590.5,92.5 L603.0,95.0 L615.5,91.2 L619.2,85.0 L623.0,75.0 L633.0,62.5 L628.0,56.2 L633.0,50.0 L648.0,47.5 L663.0,45.8 L678.0,48.8 L688.0,53.8 L695.5,65.0 L700.5,75.0 L705.5,85.0 L708.0,93.8 L718.0,96.2 L728.0,100.0 L738.0,107.5 L743.0,120.0 L758.0,120.0 L770.5,115.0 L785.5,111.2 L783.0,122.5 L778.0,130.0 L773.0,142.5 L768.0,152.5 L753.0,152.5 L745.5,157.5 L745.5,167.5 L746.8,177.5 L740.5,185.0 L735.5,186.2" fill="none" stroke="#666666" stroke-width="1.45" stroke-linejoin="round"/>
<path d="M483.0,190.0 L498.0,187.5 L513.0,186.2 L525.5,182.5 L535.5,175.0 L541.8,170.0 L536.8,162.5 L540.5,155.0 L555.5,152.5 L568.0,155.0 L575.5,147.5 L588.0,142.5 L595.5,135.0 L605.5,130.0 L618.0,131.2 L626.8,131.2 L623.0,122.5 L613.0,117.5 L600.5,116.2 L590.5,120.0 L583.0,118.8 L580.5,112.5 L585.5,102.5 L590.5,93.8" fill="none" stroke="#666666" stroke-width="1.45" stroke-linejoin="round"/>
<path d="M735.5,186.2 L733.0,180.0 L723.0,190.0 L713.0,192.5 L703.0,197.5 L698.0,200.0 L688.0,207.5 L680.5,212.5 L673.0,216.2" fill="none" stroke="#666666" stroke-width="1.45" stroke-linejoin="round"/>
<path d="M695.5,243.8 L705.5,238.8 L714.2,236.2" fill="none" stroke="#666666" stroke-width="1.45" stroke-linejoin="round" stroke-dasharray="4,3"/>
<line x1="513.52" y1="518.52" x2="520.19" y2="532.7" stroke="#666" stroke-width="1.1"/>
<line x1="524.36" y1="569.41" x2="521.86" y2="581.92" stroke="#666" stroke-width="1.1"/>
<line x1="646.98" y1="449.29" x2="639.48" y2="460.96" stroke="#666" stroke-width="1.1"/>
<line x1="626.96" y1="483.49" x2="621.12" y2="496.83" stroke="#666" stroke-width="1.1"/>
<line x1="616.95" y1="521.02" x2="617.29" y2="534.37" stroke="#666" stroke-width="1.1"/>
<line x1="616.12" y1="572.74" x2="611.95" y2="586.09" stroke="#666" stroke-width="1.1"/>
<line x1="586.92" y1="623.63" x2="579.42" y2="632.8" stroke="#666" stroke-width="1.1"/>
<line x1="501.84" y1="634.47" x2="503.51" y2="648.65" stroke="#666" stroke-width="1.1"/>
<line x1="337.51" y1="547.72" x2="346.68" y2="551.55" stroke="#666" stroke-width="1.1"/>
<line x1="352.52" y1="649.99" x2="362.53" y2="643.31" stroke="#666" stroke-width="1.1"/>
<line x1="495.0" y1="655.0" x2="501.67" y2="653.33" stroke="#666" stroke-width="1.1"/>
<line x1="468.33" y1="676.67" x2="475.83" y2="673.33" stroke="#666" stroke-width="1.1"/>
<line x1="516.67" y1="680.0" x2="516.67" y2="690.0" stroke="#666" stroke-width="1.1"/>
<line x1="465.83" y1="685.0" x2="466.67" y2="692.5" stroke="#666" stroke-width="1.1"/>
<line x1="540.0" y1="680.83" x2="551.67" y2="675.83" stroke="#666" stroke-width="1.1"/>
<line x1="654.25" y1="415.0" x2="656.75" y2="426.25" stroke="#666" stroke-width="1.1"/>
<line x1="853.0" y1="143.75" x2="870.0" y2="147.0" stroke="#666" stroke-width="1.1"/>
<line x1="934.25" y1="140.5" x2="938.0" y2="153.0" stroke="#666" stroke-width="1.1"/>
<line x1="721.75" y1="281.25" x2="724.25" y2="292.5" stroke="#666" stroke-width="1.1"/>
<line x1="694.25" y1="655.0" x2="698.0" y2="648.75" stroke="#666" stroke-width="1.1"/>
<line x1="683.0" y1="660.0" x2="689.25" y2="660.0" stroke="#666" stroke-width="1.1"/>
<line x1="730.5" y1="692.5" x2="730.5" y2="702.5" stroke="#666" stroke-width="1.1"/>
<line x1="730.5" y1="702.5" x2="740.5" y2="702.5" stroke="#666" stroke-width="1.1"/>
<line x1="755.5" y1="701.25" x2="769.25" y2="701.25" stroke="#666" stroke-width="1.1"/>
<line x1="516.75" y1="680.0" x2="516.75" y2="690.0" stroke="#666" stroke-width="1.1"/>
<line x1="501.75" y1="635.0" x2="503.0" y2="647.5" stroke="#666" stroke-width="1.1"/>
<line x1="495.5" y1="654.5" x2="501.75" y2="653.25" stroke="#666" stroke-width="1.1"/>
<line x1="540.0" y1="680.5" x2="551.0" y2="676.25" stroke="#666" stroke-width="1.1"/>
<path d="M593.3,627.5 L600.0,633.3 L605.0,641.7 L611.7,648.3 L618.3,652.5 L622.5,657.5 L616.7,666.7 L616.7,673.3" fill="none" stroke="#555" stroke-width="1.2"/>
<path d="M600.0,670.8 L626.7,668.3" fill="none" stroke="#555" stroke-width="1.1"/>
<path d="M138.84,285.11 h4 M140.84,283.11 v4" stroke="#666" stroke-width="0.8" fill="none"/>
<path d="M146.35,285.94 h4 M148.35,283.94 v4" stroke="#666" stroke-width="0.8" fill="none"/>
<path d="M154.69,286.44 h4 M156.69,284.44 v4" stroke="#666" stroke-width="0.8" fill="none"/>
<path d="M162.2,281.77 h4 M164.2,279.77 v4" stroke="#666" stroke-width="0.8" fill="none"/>
<path d="M135.51,291.78 h4 M137.51,289.78 v4" stroke="#666" stroke-width="0.8" fill="none"/>
<path d="M138.84,299.29 h4 M140.84,297.29 v4" stroke="#666" stroke-width="0.8" fill="none"/>
<path d="M693.5,244.5 h4 M695.5,242.5 v4" stroke="#666" stroke-width="0.8" fill="none"/>
<path d="M702.25,238.75 h4 M704.25,236.75 v4" stroke="#666" stroke-width="0.8" fill="none"/>
<path d="M712.25,236.25 h4 M714.25,234.25 v4" stroke="#666" stroke-width="0.8" fill="none"/>
<path d="M53.5,401.2 L60.0,403.8 L63.8,411.2 L68.8,417.5 L75.0,421.2 L80.0,427.5 L86.2,433.8 L92.5,436.2 L98.8,435.0 L92.5,440.0 L86.2,442.0 L90.0,447.5 L97.5,455.0 L106.2,460.0 L115.0,457.5 L120.0,450.0 L121.2,443.8 L123.8,450.0 L125.0,462.5 L126.2,480.0 L128.8,495.0 L131.2,510.0 L135.0,522.5 L140.0,535.0 L145.0,550.0 L150.0,565.0 L156.2,577.5 L161.2,590.0 L165.0,605.0 L170.0,616.2 L176.2,621.2 L181.2,617.5 L185.0,610.0 L191.2,606.2 L192.5,598.8 L198.8,593.8 L201.2,580.0 L203.8,565.0 L206.2,555.0 L203.8,540.0 L203.8,530.0 L207.5,523.8 L215.0,521.2 L222.5,515.0 L227.5,507.5 L235.0,501.2 L242.5,495.0 L250.0,486.2 L257.5,477.5 L266.2,472.5 L273.8,465.0 L276.2,456.2 L282.5,451.2 L290.0,448.8 L300.0,448.8 L310.0,445.0 L316.2,440.0 L315.0,430.0 L318.8,433.8 L322.5,440.0 L327.5,445.0 L330.0,452.5 L333.8,460.0 L340.0,470.0 L346.2,480.0 L350.0,490.0 L355.0,500.0 L356.2,510.0 L353.8,520.0 L360.0,523.8 L370.0,522.5 L377.5,515.0 L382.5,506.2 L386.2,515.0 L390.0,530.0 L393.8,545.0 L397.5,560.0 L400.0,566.7 L400.8,576.7 L400.0,586.7 L398.3,596.7 L396.7,606.7 L396.7,616.7 L398.3,623.3 L403.3,628.3 L408.3,635.0 L413.3,641.7 L417.5,650.0 L420.0,660.0 L420.8,668.3 L425.0,676.7 L428.3,685.0 L435.0,691.7 L441.7,698.3 L448.3,705.0 L455.0,709.2 L461.7,708.3 L458.3,700.0 L454.2,691.7 L451.7,681.7 L450.8,670.0 L448.3,660.0 L443.3,651.7 L436.7,645.0 L431.7,638.3 L425.0,636.7 L420.8,630.0 L417.5,620.0 L414.2,610.0 L411.7,606.7 L406.7,606.7 L405.8,600.0 L407.5,593.3 L410.0,583.3 L412.5,573.3 L415.0,563.3 L415.8,555.8 L420.8,553.3 L424.2,557.5 L425.0,562.5 L431.7,565.0 L438.3,570.0 L443.3,573.3 L446.7,581.7 L453.3,588.3 L458.3,593.3 L465.0,596.7 L468.3,603.3 L466.7,615.0 L471.7,611.7 L478.3,605.0 L485.0,598.3 L491.7,592.5 L500.0,588.3 L506.7,583.3 L511.7,575.0 L514.2,565.0 L513.3,553.3 L510.0,541.7 L505.0,531.7 L498.3,521.7 L491.7,511.7 L485.0,503.3 L481.7,500.0 L483.0,497.5 L477.5,490.0 L475.0,482.5 L477.5,472.5 L483.0,463.8 L490.5,457.5 L498.0,452.5 L508.0,450.0 L516.8,450.0 L520.5,460.0 L521.8,466.2 L526.8,465.0 L525.5,457.5 L530.5,455.0 L538.0,450.0 L548.0,447.5 L558.0,442.5 L568.0,436.2 L578.0,435.0 L588.0,430.0 L595.5,425.0 L605.5,418.8 L613.0,410.0 L619.2,402.5 L623.0,395.0 L628.0,387.5 L633.0,377.5 L638.0,370.0 L643.0,360.0 L645.5,350.0 L650.5,340.0 L643.0,337.5 L638.0,341.2 L643.0,330.0 L646.8,322.5 L643.0,315.0 L638.0,307.5 L633.0,300.0 L630.5,290.0 L623.0,282.5 L619.2,280.0 L623.0,270.0 L630.5,265.0 L638.0,262.5 L653.0,257.5 L654.2,251.2 L643.0,248.8 L633.0,246.2 L623.0,252.5 L618.0,250.0 L615.5,242.5 L608.0,240.0 L601.8,233.8 L603.0,227.5 L610.5,226.2 L618.0,220.0 L628.0,212.5 L638.0,206.2 L646.8,205.5 L650.5,211.2 L645.5,220.0 L640.5,226.2 L639.2,232.5 L648.0,227.5 L658.0,222.5 L668.0,220.0 L678.0,221.2 L683.0,225.0 L681.8,237.5 L678.0,243.8 L683.0,246.2 L690.5,247.5 L695.5,252.5 L693.0,260.0 L698.0,270.0 L695.5,280.0 L693.0,287.5 L700.5,290.0 L710.5,285.0 L720.5,281.2 L726.8,275.0 L728.0,265.0 L724.2,252.5 L718.0,242.5 L711.8,232.5 L706.8,225.0 L709.2,217.5 L716.8,211.2 L723.0,202.5 L729.2,195.0 L735.5,186.2 L743.0,181.2 L751.8,176.2 L758.0,177.5 L765.5,181.2 L775.5,178.8 L785.5,172.5 L795.5,162.5 L805.5,151.2 L815.5,140.0 L825.5,125.0 L833.0,111.2 L838.0,100.0 L843.0,87.5 L845.5,75.0 L850.5,67.5 L853.0,57.5 L850.5,48.8 L843.0,41.2 L835.5,37.5 L825.5,40.0 L820.5,46.2 L810.5,45.0 L805.5,37.5 L800.5,32.5 L793.0,31.2 L788.0,28.8 L795.5,23.8 L800.5,20.0" fill="none" stroke="#4da4de" stroke-width="1.75" stroke-linejoin="round"/>
<path d="M311.8,164.7 L305.2,177.2 L318.2,177.2Z" fill="none" stroke="#dc202a" stroke-width="1.8"/>
<path d="M276.8,172.7 L270.2,185.2 L283.2,185.2Z" fill="none" stroke="#dc202a" stroke-width="1.8"/>
<path d="M330.5,182.2 L324.0,194.8 L337.0,194.8Z" fill="none" stroke="#dc202a" stroke-width="1.8"/>
<path d="M295.2,188.4 L288.8,201.0 L301.8,201.0Z" fill="none" stroke="#dc202a" stroke-width="1.8"/>
<path d="M224.2,197.9 L217.8,210.5 L230.8,210.5Z" fill="none" stroke="#dc202a" stroke-width="1.8"/>
<path d="M276.8,201.4 L270.2,214.0 L283.2,214.0Z" fill="none" stroke="#dc202a" stroke-width="1.8"/>
<path d="M311.8,208.9 L305.2,221.5 L318.2,221.5Z" fill="none" stroke="#dc202a" stroke-width="1.8"/>
<path d="M412.2,216.4 L405.8,229.0 L418.8,229.0Z" fill="none" stroke="#dc202a" stroke-width="1.8"/>
<path d="M448.0,227.9 L441.5,240.5 L454.5,240.5Z" fill="none" stroke="#dc202a" stroke-width="1.8"/>
<path d="M171.2,235.9 L164.8,248.5 L177.8,248.5Z" fill="none" stroke="#dc202a" stroke-width="1.8"/>
<path d="M471.0,246.4 L464.5,259.0 L477.5,259.0Z" fill="none" stroke="#dc202a" stroke-width="1.8"/>
<path d="M478.0,262.1 L471.5,274.8 L484.5,274.8Z" fill="none" stroke="#dc202a" stroke-width="1.8"/>
<path d="M403.8,265.9 L397.2,278.5 L410.2,278.5Z" fill="none" stroke="#e14136" stroke-width="1.8"/>
<path d="M163.0,285.9 L156.5,298.5 L169.5,298.5Z" fill="none" stroke="#dc202a" stroke-width="1.8"/>
<path d="M480.0,282.1 L473.5,294.8 L486.5,294.8Z" fill="none" stroke="#dc202a" stroke-width="1.8"/>
<path d="M462.5,316.4 L456.0,329.0 L469.0,329.0Z" fill="none" stroke="#dc202a" stroke-width="1.8"/>
<path d="M293.5,319.6 L287.0,332.2 L300.0,332.2Z" fill="none" stroke="#cf272f" stroke-width="1.8"/>
<path d="M325.0,324.6 L318.5,337.2 L331.5,337.2Z" fill="none" stroke="#df382d" stroke-width="1.8"/>
<path d="M331.2,318.4 L324.8,331.0 L337.8,331.0Z" fill="none" stroke="#df382d" stroke-width="1.8"/>
<path d="M408.2,324.6 L401.8,337.2 L414.8,337.2Z" fill="none" stroke="#e54a30" stroke-width="1.8"/>
<path d="M446.8,335.9 L440.2,348.5 L453.2,348.5Z" fill="none" stroke="#dc202a" stroke-width="1.8"/>
<path d="M369.5,340.4 L363.0,353.0 L376.0,353.0Z" fill="none" stroke="#e54a30" stroke-width="1.8"/>
<path d="M464.5,343.4 L458.0,356.0 L471.0,356.0Z" fill="none" stroke="#dc202a" stroke-width="1.8"/>
<path d="M478.8,335.4 L472.2,348.0 L485.2,348.0Z" fill="none" stroke="#dc202a" stroke-width="1.8"/>
<path d="M295.0,347.9 L288.5,360.5 L301.5,360.5Z" fill="none" stroke="#e54a30" stroke-width="1.8"/>
<path d="M328.0,345.4 L321.5,358.0 L334.5,358.0Z" fill="none" stroke="#e54a30" stroke-width="1.8"/>
<path d="M332.5,355.9 L326.0,368.5 L339.0,368.5Z" fill="none" stroke="#e55033" stroke-width="1.8"/>
<path d="M140.8,352.6 L134.2,365.2 L147.2,365.2Z" fill="none" stroke="#dc202a" stroke-width="1.8"/>
<path d="M448.0,361.4 L441.5,374.0 L454.5,374.0Z" fill="none" stroke="#dc202a" stroke-width="1.8"/>
<path d="M478.0,363.4 L471.5,376.0 L484.5,376.0Z" fill="none" stroke="#dc202a" stroke-width="1.8"/>
<path d="M440.0,399.6 L433.5,412.2 L446.5,412.2Z" fill="none" stroke="#dc202a" stroke-width="1.8"/>
<path d="M109.5,435.9 L103.0,448.5 L116.0,448.5Z" fill="none" stroke="#dc202a" stroke-width="1.8"/>
<path d="M295.0,433.9 L288.5,446.5 L301.5,446.5Z" fill="none" stroke="#dc202a" stroke-width="1.8"/>
<path d="M679.8,154.7 L673.2,167.2 L686.2,167.2Z" fill="none" stroke="#dc202a" stroke-width="1.8"/>
<path d="M663.0,188.4 L656.5,201.0 L669.5,201.0Z" fill="none" stroke="#dc202a" stroke-width="1.8"/>
<path d="M591.2,208.4 L584.8,221.0 L597.8,221.0Z" fill="none" stroke="#dc202a" stroke-width="1.8"/>
<path d="M594.2,208.9 L587.8,221.5 L600.8,221.5Z" fill="none" stroke="#dc202a" stroke-width="1.8"/>
<path d="M533.8,235.9 L527.2,248.5 L540.2,248.5Z" fill="none" stroke="#dc202a" stroke-width="1.8"/>
<path d="M554.8,232.2 L548.2,244.8 L561.2,244.8Z" fill="none" stroke="#dc202a" stroke-width="1.8"/>
<path d="M596.8,238.4 L590.2,251.0 L603.2,251.0Z" fill="none" stroke="#dc202a" stroke-width="1.8"/>
<path d="M626.8,252.2 L620.2,264.8 L633.2,264.8Z" fill="none" stroke="#dc202a" stroke-width="1.8"/>
<path d="M563.0,261.4 L556.5,274.0 L569.5,274.0Z" fill="none" stroke="#dc202a" stroke-width="1.8"/>
<path d="M552.5,265.9 L546.0,278.5 L559.0,278.5Z" fill="none" stroke="#dc202a" stroke-width="1.8"/>
<path d="M583.5,258.9 L577.0,271.5 L590.0,271.5Z" fill="none" stroke="#dc202a" stroke-width="1.8"/>
<path d="M605.0,262.9 L598.5,275.5 L611.5,275.5Z" fill="none" stroke="#dc202a" stroke-width="1.8"/>
<path d="M542.2,274.6 L535.8,287.2 L548.8,287.2Z" fill="none" stroke="#dc202a" stroke-width="1.8"/>
<path d="M513.8,285.4 L507.2,298.0 L520.2,298.0Z" fill="none" stroke="#dc202a" stroke-width="1.8"/>
<path d="M536.2,280.9 L529.8,293.5 L542.8,293.5Z" fill="none" stroke="#dc202a" stroke-width="1.8"/>
<path d="M555.5,283.4 L549.0,296.0 L562.0,296.0Z" fill="none" stroke="#dc202a" stroke-width="1.8"/>
<path d="M567.2,279.6 L560.8,292.2 L573.8,292.2Z" fill="none" stroke="#dc202a" stroke-width="1.8"/>
<path d="M604.8,285.4 L598.2,298.0 L611.2,298.0Z" fill="none" stroke="#dc202a" stroke-width="1.8"/>
<path d="M536.2,293.4 L529.8,306.0 L542.8,306.0Z" fill="none" stroke="#dc202a" stroke-width="1.8"/>
<path d="M548.0,292.1 L541.5,304.8 L554.5,304.8Z" fill="none" stroke="#dc202a" stroke-width="1.8"/>
<path d="M558.0,289.6 L551.5,302.2 L564.5,302.2Z" fill="none" stroke="#dc202a" stroke-width="1.8"/>
<path d="M488.0,300.9 L481.5,313.5 L494.5,313.5Z" fill="none" stroke="#dc202a" stroke-width="1.8"/>
<path d="M558.5,301.4 L552.0,314.0 L565.0,314.0Z" fill="none" stroke="#dc202a" stroke-width="1.8"/>
<path d="M575.0,296.4 L568.5,309.0 L581.5,309.0Z" fill="none" stroke="#dc202a" stroke-width="1.8"/>
<path d="M635.5,312.1 L629.0,324.8 L642.0,324.8Z" fill="none" stroke="#dc202a" stroke-width="1.8"/>
<path d="M625.0,315.9 L618.5,328.5 L631.5,328.5Z" fill="none" stroke="#dc202a" stroke-width="1.8"/>
<path d="M618.5,322.1 L612.0,334.8 L625.0,334.8Z" fill="none" stroke="#dc202a" stroke-width="1.8"/>
<path d="M586.0,315.9 L579.5,328.5 L592.5,328.5Z" fill="none" stroke="#dc202a" stroke-width="1.8"/>
<path d="M510.0,323.9 L503.5,336.5 L516.5,336.5Z" fill="none" stroke="#dc202a" stroke-width="1.8"/>
<path d="M530.5,329.6 L524.0,342.2 L537.0,342.2Z" fill="none" stroke="#dc202a" stroke-width="1.8"/>
<path d="M561.2,335.4 L554.8,348.0 L567.8,348.0Z" fill="none" stroke="#dc202a" stroke-width="1.8"/>
<path d="M594.2,335.4 L587.8,348.0 L600.8,348.0Z" fill="none" stroke="#dc202a" stroke-width="1.8"/>
<path d="M497.5,347.9 L491.0,360.5 L504.0,360.5Z" fill="none" stroke="#dc202a" stroke-width="1.8"/>
<path d="M499.5,360.9 L493.0,373.5 L506.0,373.5Z" fill="none" stroke="#dc202a" stroke-width="1.8"/>
<path d="M583.8,358.4 L577.2,371.0 L590.2,371.0Z" fill="none" stroke="#dc202a" stroke-width="1.8"/>
<path d="M626.8,361.4 L620.2,374.0 L633.2,374.0Z" fill="none" stroke="#dc202a" stroke-width="1.8"/>
<path d="M536.2,369.6 L529.8,382.2 L542.8,382.2Z" fill="none" stroke="#dc202a" stroke-width="1.8"/>
<path d="M550.5,368.4 L544.0,381.0 L557.0,381.0Z" fill="none" stroke="#dc202a" stroke-width="1.8"/>
<path d="M489.2,390.9 L482.8,403.5 L495.8,403.5Z" fill="none" stroke="#dc202a" stroke-width="1.8"/>
<path d="M515.5,389.6 L509.0,402.2 L522.0,402.2Z" fill="none" stroke="#dc202a" stroke-width="1.8"/>
<path d="M518.5,399.6 L512.0,412.2 L525.0,412.2Z" fill="none" stroke="#dc202a" stroke-width="1.8"/>
<path d="M618.5,388.9 L612.0,401.5 L625.0,401.5Z" fill="none" stroke="#dc202a" stroke-width="1.8"/>
<path d="M530.5,409.6 L524.0,422.2 L537.0,422.2Z" fill="none" stroke="#dc202a" stroke-width="1.8"/>
<path d="M518.8,414.6 L512.2,427.2 L525.2,427.2Z" fill="none" stroke="#dc202a" stroke-width="1.8"/>
<path d="M512.5,417.1 L506.0,429.8 L519.0,429.8Z" fill="none" stroke="#dc202a" stroke-width="1.8"/>
<path d="M555.5,413.4 L549.0,426.0 L562.0,426.0Z" fill="none" stroke="#dc202a" stroke-width="1.8"/>
<path d="M599.8,410.4 L593.2,423.0 L606.2,423.0Z" fill="none" stroke="#dc202a" stroke-width="1.8"/>
<path d="M547.2,425.4 L540.8,438.0 L553.8,438.0Z" fill="none" stroke="#dc202a" stroke-width="1.8"/>
<path d="M499.5,432.1 L493.0,444.8 L506.0,444.8Z" fill="none" stroke="#dc202a" stroke-width="1.8"/>
<path d="M840.0,235.9 L833.5,248.5 L846.5,248.5Z" fill="none" stroke="#dc202a" stroke-width="1.8"/>
<path d="M184.2,508.9 L177.8,521.5 L190.8,521.5Z" fill="none" stroke="#dc202a" stroke-width="1.8"/>
<path d="M207.5,623.9 L201.0,636.5 L214.0,636.5Z" fill="none" stroke="#dc202a" stroke-width="1.8"/>
<path d="M435.0,654.6 L428.5,667.2 L441.5,667.2Z" fill="none" stroke="#dc202a" stroke-width="1.8"/>
<path d="M438.8,662.1 L432.2,674.8 L445.2,674.8Z" fill="none" stroke="#dc202a" stroke-width="1.8"/>
<path d="M435.0,668.4 L428.5,681.0 L441.5,681.0Z" fill="none" stroke="#dc202a" stroke-width="1.8"/>
<path d="M443.0,675.9 L436.5,688.5 L449.5,688.5Z" fill="none" stroke="#dc202a" stroke-width="1.8"/>
<path d="M456.2,698.1 L449.8,710.8 L462.8,710.8Z" fill="none" stroke="#dc202a" stroke-width="1.8"/>
<path d="M520.5,473.4 L514.0,486.0 L527.0,486.0Z" fill="none" stroke="#dc202a" stroke-width="1.8"/>
</g>
<rect x="847.5" y="371.75" width="33" height="30.0" fill="#7d1128" stroke="#3a3a3a" stroke-width="0.8"/>
<text x="889.30" y="394.05" font-size="29.6" text-anchor="start" fill="#000">1</text>
<rect x="847.5" y="401.75" width="33" height="31.25" fill="#a51c2a" stroke="#3a3a3a" stroke-width="0.8"/>
<text x="889.30" y="424.80" font-size="29.6" text-anchor="start" fill="#000">0.9</text>
<rect x="847.5" y="433" width="33" height="30.75" fill="#c82127" stroke="#3a3a3a" stroke-width="0.8"/>
<text x="889.30" y="455.30" font-size="29.6" text-anchor="start" fill="#000">0.8</text>
<rect x="847.5" y="463.75" width="33" height="30.75" fill="#e01b24" stroke="#3a3a3a" stroke-width="0.8"/>
<text x="889.30" y="486.55" font-size="29.6" text-anchor="start" fill="#000">0.7</text>
<rect x="847.5" y="494.5" width="33" height="31.0" fill="#ef4123" stroke="#3a3a3a" stroke-width="0.8"/>
<text x="889.30" y="517.30" font-size="29.6" text-anchor="start" fill="#000">0.6</text>
<rect x="847.5" y="525.5" width="33" height="31.0" fill="#f26531" stroke="#3a3a3a" stroke-width="0.8"/>
<text x="889.30" y="548.30" font-size="29.6" text-anchor="start" fill="#000">0.5</text>
<rect x="847.5" y="556.5" width="33" height="31.0" fill="#f78b3c" stroke="#3a3a3a" stroke-width="0.8"/>
<text x="889.30" y="579.05" font-size="29.6" text-anchor="start" fill="#000">0.4</text>
<rect x="847.5" y="587.5" width="33" height="30.5" fill="#fba447" stroke="#3a3a3a" stroke-width="0.8"/>
<text x="889.30" y="610.30" font-size="29.6" text-anchor="start" fill="#000">0.3</text>
<rect x="847.5" y="618" width="33" height="31" fill="#fdc35f" stroke="#3a3a3a" stroke-width="0.8"/>
<text x="889.30" y="641.05" font-size="29.6" text-anchor="start" fill="#000">0.2</text>
<rect x="847.5" y="649" width="33" height="31" fill="#fdd978" stroke="#3a3a3a" stroke-width="0.8"/>
<text x="889.30" y="672.05" font-size="29.6" text-anchor="start" fill="#000">0.1</text>
<rect x="847.5" y="680" width="33" height="30.5" fill="#fdeb9e" stroke="#3a3a3a" stroke-width="0.8"/>
<text x="889.30" y="702.80" font-size="29.6" text-anchor="start" fill="#000">0</text>
<rect x="53.5" y="20.0" width="927.5" height="711.75" fill="none" stroke="#222" stroke-width="1.2"/>
</g>
<g id="panelB" font-family='&quot;Liberation Sans&quot;, sans-serif'>
<rect x="1069.5" y="18.5" width="931.5" height="712" fill="#f6f0ea" stroke="#222" stroke-width="1.2"/>
<rect x="1691" y="123" width="280.8" height="192.5" rx="21" ry="21" fill="#d8d5d2"/>
<g stroke="#111" stroke-width="1.3" fill="none" stroke-linecap="round">
<line x1="1150.5" y1="140.2" x2="1115.8" y2="173.0"/>
<line x1="1115.8" y1="173.0" x2="1123.2" y2="199.5"/>
<line x1="1089.2" y1="207.8" x2="1123.2" y2="199.5"/>
<line x1="1123.2" y1="199.5" x2="1202.2" y2="219.2"/>
<line x1="1202.2" y1="219.2" x2="1284.2" y2="230.0"/>
<line x1="1202.2" y1="219.2" x2="1181.2" y2="340.2"/>
<line x1="1181.2" y1="340.2" x2="1098.5" y2="318.2"/>
<line x1="1181.2" y1="340.2" x2="1117.8" y2="386.8"/>
<line x1="1181.2" y1="340.2" x2="1280.8" y2="344.8"/>
<line x1="1181.2" y1="340.2" x2="1253.8" y2="405.0"/>
<line x1="1224.5" y1="408.8" x2="1253.8" y2="405.0"/>
<line x1="1253.8" y1="405.0" x2="1278.2" y2="406.8"/>
<line x1="1278.2" y1="406.8" x2="1307.2" y2="386.8"/>
<line x1="1278.2" y1="406.8" x2="1292.0" y2="435.8"/>
<line x1="1253.2" y1="435.5" x2="1292.0" y2="435.8"/>
<line x1="1292.0" y1="435.8" x2="1341.2" y2="483.2"/>
<line x1="1283.8" y1="466.2" x2="1341.2" y2="483.2"/>
<line x1="1239.0" y1="473.8" x2="1283.8" y2="466.2"/>
<line x1="1341.2" y1="483.2" x2="1307.2" y2="510.5"/>
<line x1="1307.2" y1="510.5" x2="1263.0" y2="502.0"/>
<line x1="1263.0" y1="502.0" x2="1215.2" y2="511.0"/>
<line x1="1341.2" y1="483.2" x2="1367.5" y2="501.2"/>
<line x1="1367.5" y1="501.2" x2="1407.5" y2="533.8"/>
<line x1="1367.5" y1="501.2" x2="1369.5" y2="453.0"/>
<line x1="1369.5" y1="453.0" x2="1360.5" y2="356.2"/>
<line x1="1369.5" y1="453.0" x2="1338.8" y2="414.2"/>
<line x1="1360.5" y1="356.2" x2="1322.0" y2="305.0"/>
<line x1="1360.5" y1="356.2" x2="1382.2" y2="297.2"/>
<line x1="1407.5" y1="533.8" x2="1407.8" y2="681.2"/>
<line x1="1407.5" y1="533.8" x2="1428.0" y2="479.5"/>
<line x1="1428.0" y1="479.5" x2="1441.0" y2="392.5"/>
<line x1="1441.0" y1="392.5" x2="1444.8" y2="361.8"/>
<line x1="1428.0" y1="479.5" x2="1468.0" y2="435.0"/>
<line x1="1468.0" y1="435.0" x2="1496.8" y2="403.0"/>
<line x1="1496.8" y1="403.0" x2="1525.5" y2="378.0"/>
<line x1="1496.8" y1="403.0" x2="1521.8" y2="430.0"/>
<line x1="1468.0" y1="435.0" x2="1478.8" y2="384.5"/>
<line x1="1478.8" y1="384.5" x2="1489.2" y2="365.5"/>
<line x1="1489.2" y1="365.5" x2="1523.0" y2="292.5"/>
<line x1="1489.2" y1="365.5" x2="1514.0" y2="347.0"/>
<line x1="1478.8" y1="384.5" x2="1474.2" y2="336.8"/>
<line x1="1474.2" y1="336.8" x2="1452.5" y2="303.8"/>
<line x1="1431.5" y1="232.0" x2="1473.8" y2="278.8"/>
<line x1="1435.5" y1="265.0" x2="1473.8" y2="278.8"/>
<line x1="1473.8" y1="278.8" x2="1497.5" y2="287.5"/>
<line x1="1497.5" y1="287.5" x2="1523.0" y2="292.5"/>
<line x1="1517.0" y1="204.0" x2="1523.0" y2="292.5"/>
<line x1="1443.0" y1="116.0" x2="1517.0" y2="204.0"/>
<line x1="1367.5" y1="188.8" x2="1517.0" y2="204.0"/>
<line x1="1327.2" y1="135.8" x2="1367.5" y2="188.8"/>
<line x1="1294.5" y1="177.5" x2="1367.5" y2="188.8"/>
<line x1="1399.0" y1="42.8" x2="1443.0" y2="116.0"/>
<line x1="1454.8" y1="39.5" x2="1443.0" y2="116.0"/>
<line x1="1373.5" y1="79.0" x2="1443.0" y2="116.0"/>
<line x1="1560.0" y1="288.2" x2="1523.0" y2="292.5"/>
<line x1="1560.0" y1="288.2" x2="1583.5" y2="249.2"/>
<line x1="1560.0" y1="288.2" x2="1608.5" y2="275.0"/>
<line x1="1584.8" y1="353.2" x2="1638.5" y2="306.0"/>
<line x1="1584.8" y1="353.2" x2="1663.8" y2="338.0"/>
<line x1="1584.8" y1="353.2" x2="1525.5" y2="378.0"/>
<line x1="1428.0" y1="479.5" x2="1606.8" y2="431.8"/>
<line x1="1606.8" y1="431.8" x2="1709.2" y2="372.5"/>
<line x1="1709.2" y1="372.5" x2="1810.5" y2="315.5"/>
<line x1="1810.5" y1="315.5" x2="1853.2" y2="282.5"/>
<line x1="1606.8" y1="431.8" x2="1700.2" y2="419.5"/>
<line x1="1709.2" y1="372.5" x2="1787.2" y2="363.8"/>
<line x1="1709.2" y1="372.5" x2="1764.5" y2="396.2"/>
<line x1="1810.5" y1="315.5" x2="1813.0" y2="271.8"/>
<line x1="1853.2" y1="282.5" x2="1904.0" y2="267.5"/>
<line x1="1760.8" y1="209.5" x2="1874.2" y2="209.5"/>
<line x1="1785.5" y1="141.2" x2="1850.2" y2="140.2"/>
<line x1="1785.5" y1="141.2" x2="1760.8" y2="209.5"/>
<line x1="1850.2" y1="140.2" x2="1874.2" y2="209.5"/>
<line x1="1874.2" y1="209.5" x2="1947.5" y2="184.5"/>
<line x1="1874.2" y1="209.5" x2="1950.0" y2="233.8"/>
<line x1="1730.0" y1="286.5" x2="1783.0" y2="290.0"/>
<line x1="1760.8" y1="209.5" x2="1783.0" y2="290.0"/>
<line x1="1783.0" y1="290.0" x2="1813.0" y2="271.8"/>
<line x1="1462.5" y1="471.0" x2="1534.2" y2="490.0"/>
<line x1="1534.2" y1="490.0" x2="1587.5" y2="489.5"/>
<line x1="1587.5" y1="489.5" x2="1634.5" y2="487.5"/>
<line x1="1587.5" y1="489.5" x2="1627.5" y2="518.0"/>
<line x1="1534.2" y1="490.0" x2="1542.5" y2="512.0"/>
<line x1="1542.5" y1="512.0" x2="1584.8" y2="518.0"/>
<line x1="1542.5" y1="512.0" x2="1585.0" y2="542.0"/>
</g>
<circle cx="1150.50" cy="140.25" r="9.40" fill="#55b848" stroke="#111" stroke-width="1.1"/>
<circle cx="1115.75" cy="173.00" r="9.40" fill="#7e2a28" stroke="#111" stroke-width="1.1"/>
<circle cx="1089.25" cy="207.75" r="9.40" fill="#f7a02e" stroke="#111" stroke-width="1.1"/>
<circle cx="1284.25" cy="230.00" r="9.40" fill="#55b848" stroke="#111" stroke-width="1.1"/>
<circle cx="1098.50" cy="318.25" r="9.40" fill="#55b848" stroke="#111" stroke-width="1.1"/>
<circle cx="1117.75" cy="386.75" r="9.40" fill="#55b848" stroke="#111" stroke-width="1.1"/>
<circle cx="1399.00" cy="42.75" r="9.40" fill="#ece84f" stroke="#111" stroke-width="1.1"/>
<circle cx="1454.75" cy="39.50" r="9.40" fill="#55b848" stroke="#111" stroke-width="1.1"/>
<circle cx="1373.50" cy="79.00" r="9.40" fill="#55b848" stroke="#111" stroke-width="1.1"/>
<circle cx="1431.50" cy="232.00" r="9.40" fill="#55b848" stroke="#111" stroke-width="1.1"/>
<circle cx="1435.50" cy="265.00" r="9.40" fill="#55b848" stroke="#111" stroke-width="1.1"/>
<circle cx="1452.50" cy="303.75" r="9.40" fill="#55b848" stroke="#111" stroke-width="1.1"/>
<circle cx="1474.25" cy="336.75" r="9.40" fill="#55b848" stroke="#111" stroke-width="1.1"/>
<circle cx="1514.00" cy="347.00" r="9.40" fill="#417e46" stroke="#111" stroke-width="1.1"/>
<circle cx="1444.75" cy="361.75" r="9.40" fill="#7e2a28" stroke="#111" stroke-width="1.1"/>
<circle cx="1441.00" cy="392.50" r="9.40" fill="#7e2a28" stroke="#111" stroke-width="1.1"/>
<circle cx="1525.50" cy="378.00" r="9.40" fill="#f7a02e" stroke="#111" stroke-width="1.1"/>
<circle cx="1521.75" cy="430.00" r="15.20" fill="#55b848" stroke="#111" stroke-width="1.1"/>
<circle cx="1360.50" cy="356.25" r="30.30" fill="#7e2a28" stroke="#111" stroke-width="1.1"/>
<circle cx="1322.00" cy="305.00" r="9.40" fill="#7e2a28" stroke="#111" stroke-width="1.1"/>
<circle cx="1382.25" cy="297.25" r="9.40" fill="#7e2a28" stroke="#111" stroke-width="1.1"/>
<circle cx="1338.75" cy="414.25" r="9.40" fill="#7e2a28" stroke="#111" stroke-width="1.1"/>
<circle cx="1307.25" cy="386.75" r="9.40" fill="#55b848" stroke="#111" stroke-width="1.1"/>
<circle cx="1224.50" cy="408.75" r="9.40" fill="#55b848" stroke="#111" stroke-width="1.1"/>
<circle cx="1253.25" cy="435.50" r="9.40" fill="#55b848" stroke="#111" stroke-width="1.1"/>
<circle cx="1283.75" cy="466.25" r="12.60" fill="#55b848" stroke="#111" stroke-width="1.1"/>
<circle cx="1239.00" cy="473.75" r="9.40" fill="#55b848" stroke="#111" stroke-width="1.1"/>
<circle cx="1307.25" cy="510.50" r="9.40" fill="#55b848" stroke="#111" stroke-width="1.1"/>
<circle cx="1263.00" cy="502.00" r="9.40" fill="#55b848" stroke="#111" stroke-width="1.1"/>
<circle cx="1215.25" cy="511.00" r="9.40" fill="#55b848" stroke="#111" stroke-width="1.1"/>
<circle cx="1407.75" cy="681.25" r="9.60" fill="#6d6e71" stroke="#5f6063" stroke-width="1.1"/>
<circle cx="1560.00" cy="288.25" r="9.40" fill="#55b848" stroke="#111" stroke-width="1.1"/>
<circle cx="1583.50" cy="249.25" r="15.50" fill="#ece84f" stroke="#111" stroke-width="1.1"/>
<circle cx="1608.50" cy="275.00" r="9.40" fill="#417e46" stroke="#111" stroke-width="1.1"/>
<circle cx="1638.50" cy="306.00" r="9.40" fill="#7e2a28" stroke="#111" stroke-width="1.1"/>
<circle cx="1663.75" cy="338.00" r="12.70" fill="#ece84f" stroke="#111" stroke-width="1.1"/>
<circle cx="1700.25" cy="419.50" r="12.80" fill="#ee2e2c" stroke="#111" stroke-width="1.1"/>
<circle cx="1787.25" cy="363.75" r="9.40" fill="#2a5caa" stroke="#111" stroke-width="1.1"/>
<circle cx="1764.50" cy="396.25" r="9.40" fill="#2a5caa" stroke="#111" stroke-width="1.1"/>
<circle cx="1853.25" cy="282.50" r="9.40" fill="#ece84f" stroke="#111" stroke-width="1.1"/>
<circle cx="1813.00" cy="271.75" r="12.70" fill="#ece84f" stroke="#111" stroke-width="1.1"/>
<circle cx="1904.00" cy="267.50" r="12.70" fill="#ece84f" stroke="#111" stroke-width="1.1"/>
<circle cx="1760.75" cy="209.50" r="43.00" fill="#ece84f" stroke="#111" stroke-width="1.1"/>
<circle cx="1874.25" cy="209.50" r="43.00" fill="#ece84f" stroke="#111" stroke-width="1.1"/>
<circle cx="1850.25" cy="140.25" r="12.70" fill="#ece84f" stroke="#111" stroke-width="1.1"/>
<circle cx="1947.50" cy="184.50" r="9.40" fill="#ece84f" stroke="#111" stroke-width="1.1"/>
<circle cx="1950.00" cy="233.75" r="9.40" fill="#ece84f" stroke="#111" stroke-width="1.1"/>
<circle cx="1730.00" cy="286.50" r="9.40" fill="#55b848" stroke="#111" stroke-width="1.1"/>
<circle cx="1634.50" cy="487.50" r="9.40" fill="#55b848" stroke="#111" stroke-width="1.1"/>
<circle cx="1627.50" cy="518.00" r="9.40" fill="#55b848" stroke="#111" stroke-width="1.1"/>
<circle cx="1584.75" cy="518.00" r="9.40" fill="#7e2a28" stroke="#111" stroke-width="1.1"/>
<circle cx="1585.00" cy="542.00" r="9.40" fill="#7e2a28" stroke="#111" stroke-width="1.1"/>
<path d="M1202.25,219.25 L1253.75,219.25 A51.50,51.50 0 0 0 1239.30,183.48Z" fill="#7e2a28" stroke="#7e2a28" stroke-width="0.4"/><path d="M1202.25,219.25 L1239.30,183.48 A51.50,51.50 0 0 0 1166.80,181.89Z" fill="#417e46" stroke="#417e46" stroke-width="0.4"/><path d="M1202.25,219.25 L1166.80,181.89 A51.50,51.50 0 1 0 1253.75,219.25Z" fill="#55b848" stroke="#55b848" stroke-width="0.4"/><circle cx="1202.25" cy="219.25" r="51.50" fill="none" stroke="#111" stroke-width="1.1"/>
<path d="M1181.25,340.25 L1232.75,340.25 A51.50,51.50 0 0 0 1228.30,319.30Z" fill="#7e2a28" stroke="#7e2a28" stroke-width="0.4"/><path d="M1181.25,340.25 L1228.30,319.30 A51.50,51.50 0 0 0 1222.11,308.90Z" fill="#417e46" stroke="#417e46" stroke-width="0.4"/><path d="M1181.25,340.25 L1222.11,308.90 A51.50,51.50 0 1 0 1218.61,375.70Z" fill="#55b848" stroke="#55b848" stroke-width="0.4"/><path d="M1181.25,340.25 L1218.61,375.70 A51.50,51.50 0 0 0 1232.75,340.25Z" fill="#ece84f" stroke="#ece84f" stroke-width="0.4"/><circle cx="1181.25" cy="340.25" r="51.50" fill="none" stroke="#111" stroke-width="1.1"/>
<path d="M1280.75,344.75 L1292.98,332.52 A17.30,17.30 0 0 0 1268.52,356.98Z" fill="#55b848" stroke="#55b848" stroke-width="0.4"/><path d="M1280.75,344.75 L1268.52,356.98 A17.30,17.30 0 0 0 1292.98,332.52Z" fill="#ece84f" stroke="#ece84f" stroke-width="0.4"/><circle cx="1280.75" cy="344.75" r="17.30" fill="none" stroke="#111" stroke-width="1.1"/>
<path d="M1443.00,116.00 L1480.77,139.15 A44.30,44.30 0 0 0 1484.36,100.12Z" fill="#ece84f" stroke="#ece84f" stroke-width="0.4"/><path d="M1443.00,116.00 L1484.36,100.12 A44.30,44.30 0 0 0 1479.73,91.23Z" fill="#417e46" stroke="#417e46" stroke-width="0.4"/><path d="M1443.00,116.00 L1479.73,91.23 A44.30,44.30 0 1 0 1480.77,139.15Z" fill="#55b848" stroke="#55b848" stroke-width="0.4"/><circle cx="1443.00" cy="116.00" r="44.30" fill="none" stroke="#111" stroke-width="1.1"/>
<path d="M1327.25,135.75 L1338.75,131.68 A12.20,12.20 0 0 0 1315.75,139.82Z" fill="#55b848" stroke="#55b848" stroke-width="0.4"/><path d="M1327.25,135.75 L1315.75,139.82 A12.20,12.20 0 0 0 1338.75,131.68Z" fill="#417e46" stroke="#417e46" stroke-width="0.4"/><circle cx="1327.25" cy="135.75" r="12.20" fill="none" stroke="#111" stroke-width="1.1"/>
<path d="M1367.50,188.75 L1398.22,178.77 A32.30,32.30 0 0 0 1356.45,158.40Z" fill="#417e46" stroke="#417e46" stroke-width="0.4"/><path d="M1367.50,188.75 L1356.45,158.40 A32.30,32.30 0 1 0 1398.22,178.77Z" fill="#7e2a28" stroke="#7e2a28" stroke-width="0.4"/><circle cx="1367.50" cy="188.75" r="32.30" fill="none" stroke="#111" stroke-width="1.1"/>
<path d="M1294.50,177.50 L1307.67,172.18 A14.20,14.20 0 0 0 1281.33,172.18Z" fill="#7e2a28" stroke="#7e2a28" stroke-width="0.4"/><path d="M1294.50,177.50 L1281.33,172.18 A14.20,14.20 0 1 0 1307.67,172.18Z" fill="#55b848" stroke="#55b848" stroke-width="0.4"/><circle cx="1294.50" cy="177.50" r="14.20" fill="none" stroke="#111" stroke-width="1.1"/>
<path d="M1517.00,204.00 L1571.80,204.00 A54.80,54.80 0 0 0 1567.88,183.65Z" fill="#ece84f" stroke="#ece84f" stroke-width="0.4"/><path d="M1517.00,204.00 L1567.88,183.65 A54.80,54.80 0 0 0 1465.84,184.36Z" fill="#417e46" stroke="#417e46" stroke-width="0.4"/><path d="M1517.00,204.00 L1465.84,184.36 A54.80,54.80 0 1 0 1571.80,204.00Z" fill="#55b848" stroke="#55b848" stroke-width="0.4"/><circle cx="1517.00" cy="204.00" r="54.80" fill="none" stroke="#111" stroke-width="1.1"/>
<path d="M1584.75,353.25 L1625.95,339.30 A43.50,43.50 0 0 0 1584.75,309.75Z" fill="#7e2a28" stroke="#7e2a28" stroke-width="0.4"/><path d="M1584.75,353.25 L1628.20,351.20 A43.50,43.50 0 0 0 1625.95,339.30Z" fill="#ece84f" stroke="#ece84f" stroke-width="0.4"/><path d="M1584.75,353.25 L1595.57,395.38 A43.50,43.50 0 0 0 1628.20,351.20Z" fill="#55b848" stroke="#55b848" stroke-width="0.4"/><path d="M1584.75,353.25 L1584.75,309.75 A43.50,43.50 0 1 0 1595.57,395.38Z" fill="#417e46" stroke="#417e46" stroke-width="0.4"/><circle cx="1584.75" cy="353.25" r="43.50" fill="none" stroke="#111" stroke-width="1.1"/>
<path d="M1785.50,141.25 L1798.20,141.25 A12.70,12.70 0 0 0 1772.80,141.25Z" fill="#55b848" stroke="#55b848" stroke-width="0.4"/><path d="M1785.50,141.25 L1772.80,141.25 A12.70,12.70 0 0 0 1798.20,141.25Z" fill="#ece84f" stroke="#ece84f" stroke-width="0.4"/><circle cx="1785.50" cy="141.25" r="12.70" fill="none" stroke="#111" stroke-width="1.1"/>
<text x="1736.50" y="107.50" font-size="29.6" text-anchor="start" fill="#000">Tibetan-specific</text>
<text x="1434.00" y="697.50" font-size="29.5" text-anchor="start" fill="#000">Ancestral</text>
<rect x="1812.5" y="455.5" width="188.5" height="246.3" fill="#fff" stroke="#222" stroke-width="1.1"/>
<circle cx="1833.25" cy="475.5" r="9.8" fill="#ee2e2c" stroke="#111" stroke-width="1.1"/>
<text x="1852.50" y="483.75" font-size="25.2" text-anchor="start" fill="#000">Neanderthal</text>
<circle cx="1833.25" cy="509" r="9.8" fill="#2a5caa" stroke="#111" stroke-width="1.1"/>
<text x="1852.50" y="517.50" font-size="25.2" text-anchor="start" fill="#000">Denisovan</text>
<circle cx="1833.25" cy="544.5" r="9.8" fill="#f7a02e" stroke="#111" stroke-width="1.1"/>
<text x="1852.50" y="552.50" font-size="25.2" text-anchor="start" fill="#000">Ust-I’shim</text>
<circle cx="1833.25" cy="578" r="9.8" fill="#7e2a28" stroke="#111" stroke-width="1.1"/>
<text x="1852.50" y="586.75" font-size="25.2" text-anchor="start" fill="#000">African</text>
<circle cx="1833.25" cy="614.5" r="9.8" fill="#417e46" stroke="#111" stroke-width="1.1"/>
<text x="1852.50" y="623.00" font-size="25.2" text-anchor="start" fill="#000">South Asian</text>
<circle cx="1833.25" cy="649.25" r="9.8" fill="#55b848" stroke="#111" stroke-width="1.1"/>
<text x="1852.50" y="657.50" font-size="25.2" text-anchor="start" fill="#000">East Asian</text>
<circle cx="1833.25" cy="683.25" r="9.8" fill="#ece84f" stroke="#111" stroke-width="1.1"/>
<text x="1852.50" y="691.50" font-size="25.2" text-anchor="start" fill="#000">TIB</text>
</g>
<g id="panelC">
<path d="M140.25,810 V1318.25 H972" fill="none" stroke="#1a1a1a" stroke-width="1.35"/>
<line x1="133.2" y1="1318.25" x2="140.25" y2="1318.25" stroke="#1a1a1a" stroke-width="1.3"/>
<text x="126.80" y="1331.00" font-size="25.3" text-anchor="end" fill="#000">0.0</text>
<line x1="133.2" y1="1267.10" x2="140.25" y2="1267.10" stroke="#1a1a1a" stroke-width="1.3"/>
<text x="126.80" y="1279.60" font-size="25.3" text-anchor="end" fill="#000">0.1</text>
<line x1="133.2" y1="1216.40" x2="140.25" y2="1216.40" stroke="#1a1a1a" stroke-width="1.3"/>
<text x="126.80" y="1230.00" font-size="25.3" text-anchor="end" fill="#000">0.2</text>
<line x1="133.2" y1="1165.10" x2="140.25" y2="1165.10" stroke="#1a1a1a" stroke-width="1.3"/>
<text x="126.80" y="1177.00" font-size="25.3" text-anchor="end" fill="#000">0.3</text>
<line x1="133.2" y1="1114.80" x2="140.25" y2="1114.80" stroke="#1a1a1a" stroke-width="1.3"/>
<text x="126.80" y="1127.00" font-size="25.3" text-anchor="end" fill="#000">0.4</text>
<line x1="133.2" y1="1063.50" x2="140.25" y2="1063.50" stroke="#1a1a1a" stroke-width="1.3"/>
<text x="126.80" y="1075.30" font-size="25.3" text-anchor="end" fill="#000">0.5</text>
<line x1="133.2" y1="1013.30" x2="140.25" y2="1013.30" stroke="#1a1a1a" stroke-width="1.3"/>
<text x="126.80" y="1025.20" font-size="25.3" text-anchor="end" fill="#000">0.6</text>
<line x1="133.2" y1="961.80" x2="140.25" y2="961.80" stroke="#1a1a1a" stroke-width="1.3"/>
<text x="126.80" y="975.20" font-size="25.3" text-anchor="end" fill="#000">0.7</text>
<line x1="133.2" y1="911.70" x2="140.25" y2="911.70" stroke="#1a1a1a" stroke-width="1.3"/>
<text x="126.80" y="923.90" font-size="25.3" text-anchor="end" fill="#000">0.8</text>
<line x1="133.2" y1="860.10" x2="140.25" y2="860.10" stroke="#1a1a1a" stroke-width="1.3"/>
<text x="126.80" y="872.60" font-size="25.3" text-anchor="end" fill="#000">0.9</text>
<line x1="133.2" y1="810.30" x2="140.25" y2="810.30" stroke="#1a1a1a" stroke-width="1.3"/>
<text x="126.80" y="825.00" font-size="25.3" text-anchor="end" fill="#000">1.0</text>
<line x1="140.25" y1="1318.25" x2="140.25" y2="1324.75" stroke="#1a1a1a" stroke-width="1.3"/>
<text x="137.75" y="1352.50" font-size="24.7" text-anchor="middle" fill="#000">0</text>
<line x1="215.88" y1="1318.25" x2="215.88" y2="1324.75" stroke="#1a1a1a" stroke-width="1.3"/>
<text x="215.28" y="1352.50" font-size="24.7" text-anchor="middle" fill="#000">500</text>
<line x1="291.50" y1="1318.25" x2="291.50" y2="1324.75" stroke="#1a1a1a" stroke-width="1.3"/>
<text x="290.90" y="1352.50" font-size="24.7" text-anchor="middle" fill="#000">1000</text>
<line x1="367.12" y1="1318.25" x2="367.12" y2="1324.75" stroke="#1a1a1a" stroke-width="1.3"/>
<text x="366.52" y="1352.50" font-size="24.7" text-anchor="middle" fill="#000">1500</text>
<line x1="442.75" y1="1318.25" x2="442.75" y2="1324.75" stroke="#1a1a1a" stroke-width="1.3"/>
<text x="442.15" y="1352.50" font-size="24.7" text-anchor="middle" fill="#000">2000</text>
<line x1="518.38" y1="1318.25" x2="518.38" y2="1324.75" stroke="#1a1a1a" stroke-width="1.3"/>
<text x="517.77" y="1352.50" font-size="24.7" text-anchor="middle" fill="#000">2500</text>
<line x1="594.00" y1="1318.25" x2="594.00" y2="1324.75" stroke="#1a1a1a" stroke-width="1.3"/>
<text x="593.40" y="1352.50" font-size="24.7" text-anchor="middle" fill="#000">3000</text>
<line x1="669.62" y1="1318.25" x2="669.62" y2="1324.75" stroke="#1a1a1a" stroke-width="1.3"/>
<text x="669.02" y="1352.50" font-size="24.7" text-anchor="middle" fill="#000">3500</text>
<line x1="745.25" y1="1318.25" x2="745.25" y2="1324.75" stroke="#1a1a1a" stroke-width="1.3"/>
<text x="744.65" y="1352.50" font-size="24.7" text-anchor="middle" fill="#000">4000</text>
<line x1="820.88" y1="1318.25" x2="820.88" y2="1324.75" stroke="#1a1a1a" stroke-width="1.3"/>
<text x="820.27" y="1352.50" font-size="24.7" text-anchor="middle" fill="#000">4500</text>
<line x1="896.50" y1="1318.25" x2="896.50" y2="1324.75" stroke="#1a1a1a" stroke-width="1.3"/>
<text x="895.90" y="1352.50" font-size="24.7" text-anchor="middle" fill="#000">5000</text>
<line x1="972.12" y1="1318.25" x2="972.12" y2="1324.75" stroke="#1a1a1a" stroke-width="1.3"/>
<text x="971.52" y="1352.50" font-size="24.7" text-anchor="middle" fill="#000">5500</text>
<text x="535.30" y="1396.25" font-size="29.5" text-anchor="middle" fill="#000">Altitude (meter)</text>
<text transform="translate(67,1069.5) rotate(-90)" font-size="29.5" text-anchor="middle" style="white-space:pre">Frequency of  rs116983452-T</text>
<line x1="163.75" y1="1318.25" x2="900" y2="850.75" stroke="#e3342f" stroke-width="3.1" stroke-linecap="round"/>
<circle cx="790" cy="810" r="12.2" fill="#2a6ebb"/>
<circle cx="692" cy="894.25" r="12.2" fill="#2a6ebb"/>
<circle cx="720.25" cy="905" r="12.2" fill="#2a6ebb"/>
<circle cx="699.5" cy="918.75" r="12.2" fill="#2a6ebb"/>
<circle cx="823.5" cy="894.25" r="12.2" fill="#2a6ebb"/>
<circle cx="898.5" cy="905" r="12.2" fill="#2a6ebb"/>
<circle cx="866.25" cy="930.75" r="12.2" fill="#2a6ebb"/>
<circle cx="850.5" cy="950" r="12.2" fill="#2a6ebb"/>
<circle cx="640.25" cy="979.5" r="12.2" fill="#2a6ebb"/>
<circle cx="713.75" cy="1013.5" r="12.2" fill="#2a6ebb"/>
<circle cx="593.75" cy="1063.75" r="12.2" fill="#2a6ebb"/>
<circle cx="156.8" cy="1266.9" r="12.2" fill="#2a6ebb"/>
<circle cx="146.2" cy="1297.7" r="12.2" fill="#2a6ebb"/>
<circle cx="142.2" cy="1305" r="12.2" fill="#2a6ebb"/>
<circle cx="156.5" cy="1304.5" r="12.2" fill="#2a6ebb"/>
<circle cx="141.5" cy="1318.5" r="12.2" fill="#2a6ebb"/>
<circle cx="154.5" cy="1318.5" r="12.2" fill="#2a6ebb"/>
<circle cx="147.5" cy="1313.75" r="12.2" fill="#2a6ebb"/>
<circle cx="278.9" cy="1297.7" r="12.2" fill="#2a6ebb"/>
<circle cx="278.9" cy="1310.7" r="12.2" fill="#2a6ebb"/>
<text x="700.75" y="820.00" font-size="24.3" text-anchor="start" fill="#000">Dingri</text>
<text x="792.00" y="873.75" font-size="24.3" text-anchor="start" fill="#000">Naqu</text>
<text x="893.25" y="885.00" font-size="24.3" text-anchor="start" fill="#000">Langkazi</text>
<text x="603.25" y="896.25" font-size="24.3" text-anchor="start" fill="#000">Lhasa</text>
<text x="579.50" y="928.00" font-size="24.3" text-anchor="start" fill="#000">Shannan</text>
<text x="730.75" y="936.25" font-size="24.3" text-anchor="start" fill="#000">Shigatse</text>
<text x="889.00" y="948.00" font-size="24.3" text-anchor="start" fill="#000">Bange</text>
<text x="868.25" y="980.50" font-size="24.3" text-anchor="start" fill="#000">Kangma</text>
<text x="540.00" y="988.00" font-size="24.3" text-anchor="start" fill="#000">Qamdo</text>
<text x="675.25" y="1053.75" font-size="24.3" text-anchor="start" fill="#000">Sherpa</text>
<text x="547.00" y="1101.25" font-size="24.3" text-anchor="start" fill="#000">Nyingchi</text>
</g>
<g id="panelD">
<line x1="1192.75" y1="828.25" x2="1192.75" y2="1298.75" stroke="#1a1a1a" stroke-width="1.3"/>
<line x1="1183" y1="1298.75" x2="1192.75" y2="1298.75" stroke="#1a1a1a" stroke-width="1.3"/>
<text x="1170.50" y="1310.75" font-size="25.3" text-anchor="end" fill="#000">0.0</text>
<line x1="1183" y1="1204.65" x2="1192.75" y2="1204.65" stroke="#1a1a1a" stroke-width="1.3"/>
<text x="1170.50" y="1216.65" font-size="25.3" text-anchor="end" fill="#000">0.2</text>
<line x1="1183" y1="1110.55" x2="1192.75" y2="1110.55" stroke="#1a1a1a" stroke-width="1.3"/>
<text x="1170.50" y="1122.55" font-size="25.3" text-anchor="end" fill="#000">0.4</text>
<line x1="1183" y1="1016.45" x2="1192.75" y2="1016.45" stroke="#1a1a1a" stroke-width="1.3"/>
<text x="1170.50" y="1028.45" font-size="25.3" text-anchor="end" fill="#000">0.6</text>
<line x1="1183" y1="922.35" x2="1192.75" y2="922.35" stroke="#1a1a1a" stroke-width="1.3"/>
<text x="1170.50" y="934.35" font-size="25.3" text-anchor="end" fill="#000">0.8</text>
<line x1="1183" y1="828.25" x2="1192.75" y2="828.25" stroke="#1a1a1a" stroke-width="1.3"/>
<text x="1170.50" y="840.25" font-size="25.3" text-anchor="end" fill="#000">1.0</text>
<line x1="1278.75" y1="1319.5" x2="1967.5" y2="1319.5" stroke="#1a1a1a" stroke-width="1.3"/>
<line x1="1278.75" y1="1319.5" x2="1278.75" y2="1333.75" stroke="#1a1a1a" stroke-width="1.3"/>
<text x="1276.05" y="1362.50" font-size="25.3" text-anchor="middle" fill="#000">46.68</text>
<line x1="1393.55" y1="1319.5" x2="1393.55" y2="1333.75" stroke="#1a1a1a" stroke-width="1.3"/>
<text x="1390.85" y="1362.50" font-size="25.3" text-anchor="middle" fill="#000">46.70</text>
<line x1="1508.35" y1="1319.5" x2="1508.35" y2="1333.75" stroke="#1a1a1a" stroke-width="1.3"/>
<text x="1505.65" y="1362.50" font-size="25.3" text-anchor="middle" fill="#000">46.72</text>
<line x1="1623.15" y1="1319.5" x2="1623.15" y2="1333.75" stroke="#1a1a1a" stroke-width="1.3"/>
<text x="1620.45" y="1362.50" font-size="25.3" text-anchor="middle" fill="#000">46.74</text>
<line x1="1737.95" y1="1319.5" x2="1737.95" y2="1333.75" stroke="#1a1a1a" stroke-width="1.3"/>
<text x="1735.25" y="1362.50" font-size="25.3" text-anchor="middle" fill="#000">46.76</text>
<line x1="1852.75" y1="1319.5" x2="1852.75" y2="1333.75" stroke="#1a1a1a" stroke-width="1.3"/>
<text x="1850.05" y="1362.50" font-size="25.3" text-anchor="middle" fill="#000">46.78</text>
<line x1="1967.55" y1="1319.5" x2="1967.55" y2="1333.75" stroke="#1a1a1a" stroke-width="1.3"/>
<text x="1964.85" y="1362.50" font-size="25.3" text-anchor="middle" fill="#000">46.80</text>
<text x="1383.50" y="1407.80" font-size="29.4" text-anchor="start" fill="#000">Position on chromosome 2 (Mb)</text>
<text transform="translate(1095.5,1069) rotate(-90)" font-size="29.5" text-anchor="middle">Extended haplotype homozygosity (EHH)</text>
<line x1="1450" y1="813.5" x2="1450" y2="1318" stroke="#5a4a5a" stroke-width="1" stroke-dasharray="5,3"/>
<path d="M1222.0,1292.5 L1222.5,1275.0 L1224.5,1268.0 L1232.5,1265.5 L1234.5,1250.0 L1245.0,1249.5 L1246.2,1231.2 L1302.0,1231.2 L1303.0,1210.0 L1308.8,1203.0 L1313.8,1200.5 L1331.2,1200.5 L1332.5,1192.5 L1343.8,1191.2 L1345.0,1185.5 L1388.8,1185.0 L1389.5,1161.2 L1438.0,1160.8 L1440.0,1110.0 L1442.5,1050.0 L1444.5,980.0 L1445.5,931.0 L1448.5,931.0 L1451.0,1080.0 L1452.5,1172.5 L1470.0,1173.8 L1471.2,1185.0 L1477.5,1191.2 L1502.5,1192.0 L1505.5,1230.0 L1507.0,1237.5 L1515.0,1238.8 L1516.2,1247.0 L1523.0,1247.0 L1527.5,1247.5 L1528.0,1256.2 L1555.5,1256.2 L1560.5,1259.5 L1638.0,1259.5 L1643.0,1260.0 L1644.2,1265.0 L1659.2,1265.5 L1661.0,1275.0 L1661.2,1297.5" fill="none" stroke="#a3212e" stroke-width="1.8" stroke-dasharray="10.8,5.4"/>
<path d="M1277.0,1297.5 L1277.0,1276.2 L1287.5,1273.8 L1290.0,1269.5 L1301.2,1268.8 L1302.5,1250.8 L1315.0,1248.8 L1327.5,1245.0 L1335.0,1242.5 L1337.5,1235.0 L1338.8,1226.2 L1350.0,1218.8 L1357.5,1215.0 L1362.5,1202.5 L1367.5,1196.2 L1375.0,1191.2 L1385.0,1183.8 L1400.0,1177.0 L1401.2,1166.2 L1410.0,1161.2 L1415.0,1152.5 L1437.5,1152.0 L1438.8,1115.0 L1441.2,1106.2 L1443.8,1102.5 L1444.6,1040.0 L1445.2,960.0 L1446.5,900.0 L1448.8,866.0 L1451.2,866.0 L1452.6,1000.0 L1453.8,1107.0 L1460.0,1108.0 L1462.5,1142.5 L1469.5,1152.5 L1471.2,1170.0 L1487.5,1172.5 L1492.5,1180.0 L1502.5,1187.5 L1505.0,1207.5 L1511.2,1217.5 L1515.0,1227.5 L1523.0,1228.8 L1528.0,1229.5 L1529.2,1235.0 L1541.8,1236.2 L1544.2,1238.8 L1558.0,1240.0 L1573.0,1241.2 L1575.5,1244.5 L1605.5,1245.0 L1611.8,1246.2 L1618.0,1252.5 L1630.5,1255.0 L1645.5,1255.5 L1650.5,1261.2 L1658.0,1262.5 L1688.0,1262.5 L1694.2,1266.2 L1695.5,1271.2 L1703.0,1273.8 L1705.5,1282.5 L1705.5,1297.5" fill="none" stroke="#2e7fc0" stroke-width="1.8" stroke-dasharray="10.8,5.4"/>
<path d="M1326.2,1298.8 L1327.5,1265.0 L1337.5,1265.0 L1338.8,1263.8 L1355.5,1263.8 L1357.5,1255.5 L1365.0,1255.5 L1367.5,1242.5 L1372.5,1242.5 L1373.8,1186.2 L1375.5,1165.0 L1380.0,1165.0 L1380.5,1098.8 L1387.0,1098.8 L1388.2,1075.0 L1432.0,1075.0 L1434.5,828.2 L1465.0,828.2 L1466.2,844.5 L1470.5,845.0 L1473.8,860.0 L1475.0,876.2 L1482.5,876.2 L1486.2,1014.5 L1499.5,1014.5 L1501.2,1016.8 L1512.5,1016.8 L1513.2,1052.0 L1523.0,1052.0 L1531.8,1052.0 L1532.5,1063.8 L1547.5,1063.8 L1548.5,1065.8 L1565.0,1065.8 L1566.8,1077.0 L1570.0,1077.5 L1574.2,1088.0 L1579.2,1092.0 L1592.5,1092.0 L1595.0,1103.0 L1597.0,1103.8 L1598.8,1113.0 L1629.2,1113.0 L1631.0,1114.5 L1662.5,1114.5 L1664.2,1165.8 L1690.5,1165.8 L1693.0,1167.5 L1740.5,1167.5 L1743.0,1169.0 L1761.0,1169.0 L1763.0,1186.2 L1764.2,1233.0 L1770.5,1233.0 L1771.2,1237.5 L1783.0,1238.8 L1805.5,1240.0 L1844.8,1240.0 L1848.0,1269.5 L1910.5,1270.0 L1952.5,1270.5 L1954.2,1275.0 L1967.5,1275.0" fill="none" stroke="#a3212e" stroke-width="1.9" stroke-linejoin="round"/>
<path d="M1192.75,1298.75 H1980.5" fill="none" stroke="#2e7fc0" stroke-width="1.9"/>
<line x1="1450.4" y1="828.25" x2="1450.4" y2="1298.75" stroke="#2464ad" stroke-width="2.9"/>
<line x1="1698.5" y1="819.5" x2="1776.75" y2="819.5" stroke="#a3212e" stroke-width="1.9"/>
<text x="1793.50" y="828.25" font-size="25.3" text-anchor="start" fill="#000">TIB-T allele</text>
<line x1="1698.5" y1="850" x2="1776.75" y2="850" stroke="#a3212e" stroke-width="1.9" stroke-dasharray="10.8,5.4"/>
<text x="1793.50" y="859.25" font-size="25.3" text-anchor="start" fill="#000">TIB-C allele</text>
<line x1="1698.5" y1="880.25" x2="1776.75" y2="880.25" stroke="#2e7fc0" stroke-width="1.9"/>
<text x="1793.50" y="890.00" font-size="25.3" text-anchor="start" fill="#000">HAN-T allele</text>
<line x1="1698.5" y1="910.25" x2="1776.75" y2="910.25" stroke="#2e7fc0" stroke-width="1.9" stroke-dasharray="10.8,5.4"/>
<text x="1793.50" y="919.25" font-size="25.3" text-anchor="start" fill="#000">HAN-C allele</text>
</g>
<g id="panelE">
<rect x="52.5" y="1478" width="1200" height="148" fill="#f6efeb"/>
<rect x="52.5" y="1699" width="1200" height="74.5" fill="#f6efeb"/>
<rect x="52.5" y="1846.5" width="1200" height="78" fill="#f6efeb"/>
<line x1="52" y1="1477.5" x2="1252.5" y2="1477.5" stroke="#000" stroke-width="3.4"/>
<line x1="48" y1="1925.3" x2="1248" y2="1925.3" stroke="#000" stroke-width="3.4"/>
<line x1="52.5" y1="1626" x2="1252.5" y2="1626" stroke="#222" stroke-width="1.3"/>
<line x1="52.5" y1="1699" x2="1252.5" y2="1699" stroke="#222" stroke-width="1.3"/>
<line x1="52.5" y1="1773.5" x2="1252.5" y2="1773.5" stroke="#222" stroke-width="1.3"/>
<line x1="52.5" y1="1846.5" x2="1252.5" y2="1846.5" stroke="#222" stroke-width="1.3"/>
<line x1="162.5" y1="1554.5" x2="810.5" y2="1554.5" stroke="#222" stroke-width="1"/>
<text x="72.50" y="1563.25" font-size="29.4" text-anchor="start" fill="#000">Trait</text>
<text x="305.50" y="1527.50" font-size="29.4" text-anchor="start" fill="#000">Genotypes of rs116983452</text>
<text x="260.00" y="1603.50" font-size="29.4" text-anchor="middle" fill="#000">CC</text>
<text x="481.00" y="1603.50" font-size="29.4" text-anchor="middle" fill="#000">CT</text>
<text x="702.75" y="1603.50" font-size="29.4" text-anchor="middle" fill="#000">TT</text>
<text x="838" y="1565.75" font-size="29.4">Adjusted <tspan font-style="italic">p</tspan></text>
<text x="1115" y="1547" font-size="29.4" text-anchor="middle">Adjusted <tspan font-style="italic">p</tspan> in</text>
<text x="1121.00" y="1581.50" font-size="29.4" text-anchor="middle" fill="#000">validation analysis</text>
<text x="112.50" y="1672.00" font-size="29.4" text-anchor="middle" fill="#000">UA</text>
<text x="259.75" y="1672.00" font-size="29.4" text-anchor="middle" fill="#000">344.28 ± 93.12</text>
<text x="481.00" y="1672.00" font-size="29.4" text-anchor="middle" fill="#000">334.35 ± 91.59</text>
<text x="702.00" y="1672.00" font-size="29.4" text-anchor="middle" fill="#000">327.91 ± 86.63</text>
<text x="906.00" y="1672.00" font-size="29.4" text-anchor="middle" fill="#000">0.031</text>
<text x="1095.40" y="1672.00" font-size="29.4" text-anchor="middle" fill="#000">NA</text>
<text x="112.50" y="1747.75" font-size="29.4" text-anchor="middle" fill="#000">RBC</text>
<text x="259.75" y="1747.75" font-size="29.4" text-anchor="middle" fill="#000">5.06 ± 0.76</text>
<text x="481.00" y="1747.75" font-size="29.4" text-anchor="middle" fill="#000">4.93 ± 0.71</text>
<text x="702.00" y="1747.75" font-size="29.4" text-anchor="middle" fill="#000">4.82 ± 0.67</text>
<text x="846" y="1747.75" font-size="29.4">5.72 × 10<tspan font-size="18" dy="-13.5" dx="2">-7</tspan></text>
<text x="1119.75" y="1747.75" font-size="29.4" text-anchor="middle" fill="#000">0.181</text>
<text x="112.50" y="1820.25" font-size="29.4" text-anchor="middle" fill="#e03a35" style="stroke:#e03a35">HGB</text>
<text x="259.75" y="1820.25" font-size="29.4" text-anchor="middle" fill="#000">163.57 ± 29.32</text>
<text x="481.00" y="1820.25" font-size="29.4" text-anchor="middle" fill="#000">157.73 ± 28.22</text>
<text x="702.00" y="1820.25" font-size="29.4" text-anchor="middle" fill="#000">155.52 ± 26.35</text>
<text x="846" y="1820.25" font-size="29.4">5.78 × 10<tspan font-size="18" dy="-13.5" dx="2">-5</tspan></text>
<text x="1059.5" y="1820.25" font-size="29.4">4.87 × 10<tspan font-size="18" dy="-13.5" dx="2">-3</tspan></text>
<text x="112.50" y="1896.00" font-size="29.4" text-anchor="middle" fill="#e03a35" style="stroke:#e03a35">HCT</text>
<text x="259.75" y="1896.00" font-size="29.4" text-anchor="middle" fill="#000">47.27 ± 7.98</text>
<text x="481.00" y="1896.00" font-size="29.4" text-anchor="middle" fill="#000">45.54 ± 7.63</text>
<text x="702.00" y="1896.00" font-size="29.4" text-anchor="middle" fill="#000">44.84 ± 7.12</text>
<text x="846" y="1896" font-size="29.4">2.57 × 10<tspan font-size="18" dy="-13.5" dx="2">-6</tspan></text>
<text x="1059.5" y="1896" font-size="29.4">4.87 × 10<tspan font-size="18" dy="-13.5" dx="2">-3</tspan></text>
</g>
<g id="panelF">
<rect x="1415.5" y="1459.25" width="561.75" height="452.9" fill="#fff" stroke="#222" stroke-width="1.1"/>
<line x1="1406.25" y1="1892.50" x2="1415.5" y2="1892.50" stroke="#222" stroke-width="1.1"/>
<text x="1397.50" y="1904.50" font-size="25.3" text-anchor="end" fill="#000">0</text>
<line x1="1406.25" y1="1770.60" x2="1415.5" y2="1770.60" stroke="#222" stroke-width="1.1"/>
<text x="1397.50" y="1782.60" font-size="25.3" text-anchor="end" fill="#000">1</text>
<line x1="1406.25" y1="1648.70" x2="1415.5" y2="1648.70" stroke="#222" stroke-width="1.1"/>
<text x="1397.50" y="1660.70" font-size="25.3" text-anchor="end" fill="#000">2</text>
<line x1="1406.25" y1="1526.80" x2="1415.5" y2="1526.80" stroke="#222" stroke-width="1.1"/>
<text x="1397.50" y="1538.80" font-size="25.3" text-anchor="end" fill="#000">3</text>
<text transform="translate(1358,1700.5) rotate(-90)" font-size="29.5" text-anchor="middle">Expression of <tspan font-style="italic">TMEM247</tspan></text>
<line x1="1523" y1="1566.75" x2="1523" y2="1859.5" stroke="#000" stroke-width="1.6" stroke-dasharray="11,9"/><line x1="1488" y1="1566.75" x2="1558.75" y2="1566.75" stroke="#000" stroke-width="1.6"/><line x1="1488" y1="1859.5" x2="1558.75" y2="1859.5" stroke="#000" stroke-width="1.6"/>
<line x1="1869.5" y1="1697.5" x2="1869.5" y2="1892.75" stroke="#000" stroke-width="1.6" stroke-dasharray="11,9"/><line x1="1834.25" y1="1697.5" x2="1905" y2="1697.5" stroke="#000" stroke-width="1.6"/><line x1="1834.25" y1="1892.75" x2="1905" y2="1892.75" stroke="#000" stroke-width="1.6"/>
<rect x="1453.75" y="1654.5" width="139.25" height="106.25" fill="#2a72b8" stroke="#000" stroke-width="1.7"/><line x1="1453.75" y1="1704.5" x2="1593" y2="1704.5" stroke="#000" stroke-width="1.7"/>
<rect x="1626.75" y="1709.4" width="139.5" height="81.0" fill="#2a72b8" stroke="#000" stroke-width="1.7"/><line x1="1626.75" y1="1749.9" x2="1766.25" y2="1749.9" stroke="#000" stroke-width="1.7"/>
<rect x="1800" y="1750.75" width="139.25" height="88.25" fill="#2a72b8" stroke="#000" stroke-width="1.7"/><line x1="1800" y1="1792" x2="1939.25" y2="1792" stroke="#000" stroke-width="1.7"/>
<path d="M1522.3,1539 V1506.5 H1868.9 V1539" fill="none" stroke="#000" stroke-width="1.3"/>
<path d="M1514.8,1531.5 L1522.3,1540 L1529.8,1531.5" fill="none" stroke="#000" stroke-width="1.3"/>
<path d="M1861.4,1531.5 L1868.9,1540 L1876.4,1531.5" fill="none" stroke="#000" stroke-width="1.3"/>
<text x="1636.5" y="1494.5" font-size="24.6"><tspan font-style="italic">p</tspan> = 0.001</text>
<line x1="1523" y1="1912" x2="1523" y2="1921.5" stroke="#222" stroke-width="1.1"/>
<text x="1525.00" y="1949.50" font-size="25.3" text-anchor="middle" fill="#000">CC</text>
<line x1="1696.25" y1="1912" x2="1696.25" y2="1921.5" stroke="#222" stroke-width="1.1"/>
<text x="1698.25" y="1949.50" font-size="25.3" text-anchor="middle" fill="#000">CT</text>
<line x1="1869.5" y1="1912" x2="1869.5" y2="1921.5" stroke="#222" stroke-width="1.1"/>
<text x="1871.50" y="1952.00" font-size="25.3" text-anchor="middle" fill="#000">TT</text>
<text x="1697.00" y="1985.25" font-size="29.5" text-anchor="middle" fill="#000">Genotypes of rs116983452</text>
</g>
<g id="labels" fill="#231f20" style="stroke:none">
<text x="-0.5" y="32.5" font-size="46.5" style="stroke:none">A</text>
<text x="1017" y="32.5" font-size="46.5" style="stroke:none">B</text>
<text x="-1.5" y="790.5" font-size="46.5" style="stroke:none">C</text>
<text x="1017" y="790.5" font-size="46.5" style="stroke:none">D</text>
<text x="-1" y="1486.25" font-size="46.5" style="stroke:none">E</text>
<text x="1306" y="1485.5" font-size="46.5" style="stroke:none">F</text>
</g>
</svg></body></html>
